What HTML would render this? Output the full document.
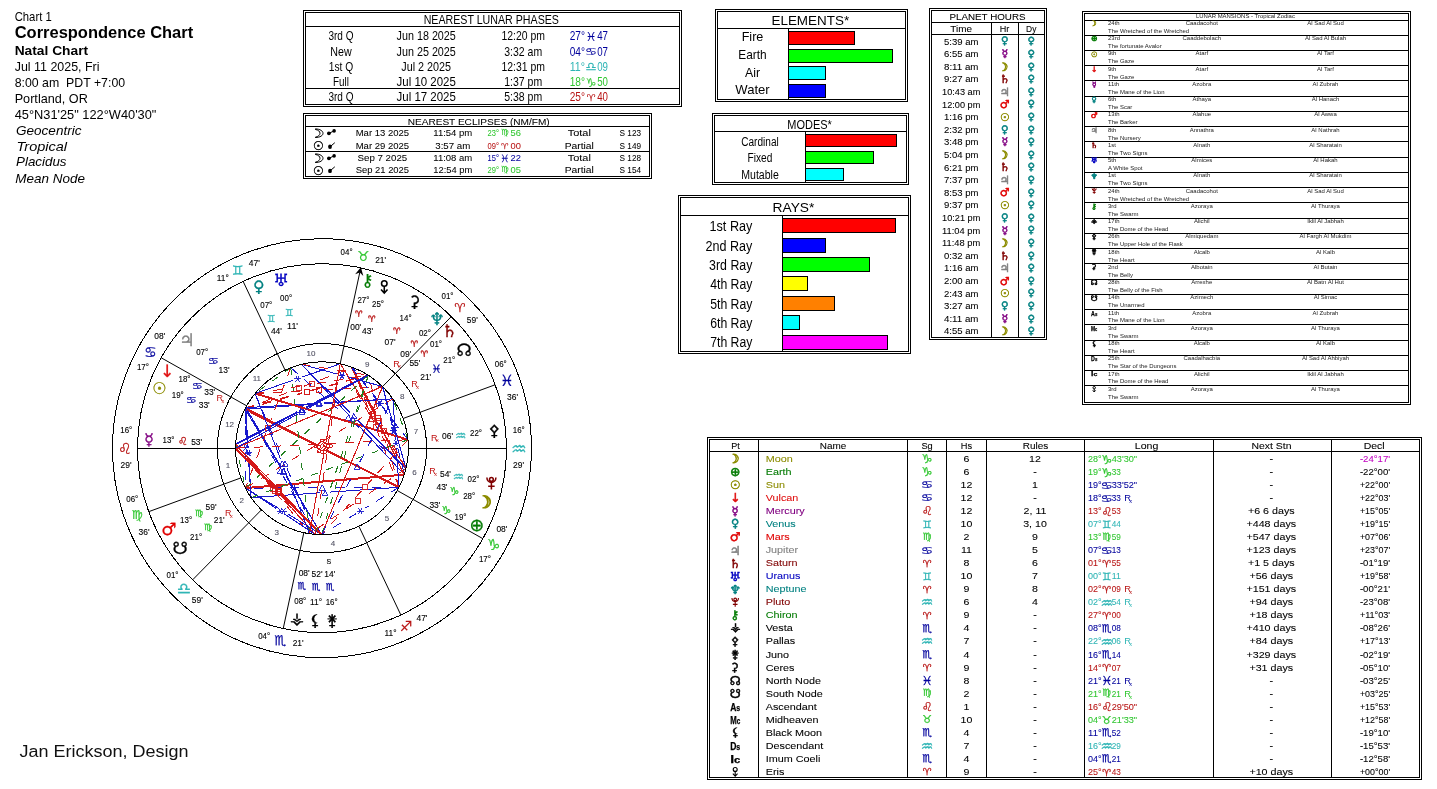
<!DOCTYPE html>
<html lang="en"><head><meta charset="utf-8"><title>Correspondence Chart</title>
<style>
html,body{margin:0;padding:0;background:#fff;}
body{width:1437px;height:789px;overflow:hidden;}
svg{display:block;font-family:"Liberation Sans","DejaVu Sans",sans-serif;}
.g{shape-rendering:crispEdges;stroke:#000;stroke-width:1;fill:none}
</style></head><body>
<svg width="1437" height="789" viewBox="0 0 1437 789">
<g id="hdr">
<text x="14.7" y="20.6" font-size="13" textLength="37" lengthAdjust="spacingAndGlyphs">Chart 1</text>
<text x="14.7" y="38.1" font-size="16" font-weight="bold" textLength="178.5" lengthAdjust="spacingAndGlyphs">Correspondence Chart</text>
<text x="14.7" y="54.9" font-size="13" font-weight="bold" textLength="73.4" lengthAdjust="spacingAndGlyphs">Natal Chart</text>
<text x="14.7" y="70.6" font-size="13" textLength="84.8" lengthAdjust="spacingAndGlyphs">Jul 11 2025, Fri</text>
<text x="14.7" y="86.6" font-size="13" textLength="110.4" lengthAdjust="spacingAndGlyphs" xml:space="preserve">8:00 am  PDT +7:00</text>
<text x="14.7" y="102.5" font-size="13" textLength="73.1" lengthAdjust="spacingAndGlyphs">Portland, OR</text>
<text x="14.7" y="118.7" font-size="13" textLength="141.7" lengthAdjust="spacingAndGlyphs">45°N31'25" 122°W40'30"</text>
<text x="16" y="134.5" font-size="13" font-style="italic" textLength="65.5" lengthAdjust="spacingAndGlyphs">Geocentric</text>
<text x="16.6" y="150.5" font-size="13" font-style="italic" textLength="50.5" lengthAdjust="spacingAndGlyphs">Tropical</text>
<text x="16" y="166.4" font-size="13" font-style="italic" textLength="50.5" lengthAdjust="spacingAndGlyphs">Placidus</text>
<text x="15.2" y="182.6" font-size="13" font-style="italic" textLength="69.7" lengthAdjust="spacingAndGlyphs">Mean Node</text>
<text x="19.5" y="757" font-size="17.3" fill="#111" textLength="169" lengthAdjust="spacingAndGlyphs">Jan Erickson, Design</text>
</g>
<g id="phases"><g class="g">
<rect x="303.5" y="10.5" width="378" height="96" fill="none" stroke="#000"/>
<rect x="305.5" y="12.5" width="374" height="92" fill="none" stroke="#000"/>
<line x1="306" y1="26.5" x2="679" y2="26.5"/>
<line x1="306" y1="88.5" x2="679" y2="88.5"/>
</g>
<text x="491.3" y="24.2" font-size="13" text-anchor="middle" textLength="135.3" lengthAdjust="spacingAndGlyphs">NEAREST LUNAR PHASES</text>
<text x="341" y="40.4" font-size="13" text-anchor="middle" textLength="25.1" lengthAdjust="spacingAndGlyphs">3rd Q</text>
<text x="426.2" y="40.4" font-size="13" text-anchor="middle" textLength="59.3" lengthAdjust="spacingAndGlyphs">Jun 18 2025</text>
<text x="523.2" y="40.4" font-size="13" text-anchor="middle" textLength="43.5" lengthAdjust="spacingAndGlyphs">12:20 pm</text>
<text x="569.7" y="40.4" font-size="13" fill="#00009c" textLength="15.3" lengthAdjust="spacingAndGlyphs">27°</text>
<text x="585.58" y="40.70" font-size="12.32" font-family="DejaVu Sans" fill="#00009c" stroke="#00009c" stroke-width="0.1">♓&#xFE0E;</text>
<text x="597.2" y="40.4" font-size="13" fill="#00009c" textLength="10.8" lengthAdjust="spacingAndGlyphs">47</text>
<text x="341" y="55.7" font-size="13" text-anchor="middle" textLength="21.4" lengthAdjust="spacingAndGlyphs">New</text>
<text x="426.2" y="55.7" font-size="13" text-anchor="middle" textLength="59.3" lengthAdjust="spacingAndGlyphs">Jun 25 2025</text>
<text x="523.2" y="55.7" font-size="13" text-anchor="middle" textLength="37.9" lengthAdjust="spacingAndGlyphs">3:32 am</text>
<text x="569.7" y="55.7" font-size="13" fill="#00009c" textLength="15.3" lengthAdjust="spacingAndGlyphs">04°</text>
<text x="584.87" y="56.43" font-size="13.89" font-family="DejaVu Sans" fill="#00009c" stroke="#00009c" stroke-width="0.1" transform="translate(0 14.42) scale(1 0.72)">♋&#xFE0E;</text>
<text x="597.2" y="55.7" font-size="13" fill="#00009c" textLength="10.8" lengthAdjust="spacingAndGlyphs">07</text>
<text x="341" y="70.9" font-size="13" text-anchor="middle" textLength="24.5" lengthAdjust="spacingAndGlyphs">1st Q</text>
<text x="426.2" y="70.9" font-size="13" text-anchor="middle" textLength="49.8" lengthAdjust="spacingAndGlyphs">Jul 2 2025</text>
<text x="523.2" y="70.9" font-size="13" text-anchor="middle" textLength="43.5" lengthAdjust="spacingAndGlyphs">12:31 pm</text>
<text x="569.7" y="70.9" font-size="13" fill="#2fb5b5" textLength="15.3" lengthAdjust="spacingAndGlyphs">11°</text>
<text x="585.32" y="71.24" font-size="12.89" font-family="DejaVu Sans" fill="#2fb5b5" stroke="#2fb5b5" stroke-width="0.1">♎&#xFE0E;</text>
<text x="597.2" y="70.9" font-size="13" fill="#2fb5b5" textLength="10.8" lengthAdjust="spacingAndGlyphs">09</text>
<text x="341" y="86.3" font-size="13" text-anchor="middle" textLength="15.9" lengthAdjust="spacingAndGlyphs">Full</text>
<text x="426.2" y="86.3" font-size="13" text-anchor="middle" textLength="59.3" lengthAdjust="spacingAndGlyphs">Jul 10 2025</text>
<text x="523.2" y="86.3" font-size="13" text-anchor="middle" textLength="37.9" lengthAdjust="spacingAndGlyphs">1:37 pm</text>
<text x="569.7" y="86.3" font-size="13" fill="#2fc62f" textLength="15.3" lengthAdjust="spacingAndGlyphs">18°</text>
<text x="585.58" y="86.60" font-size="12.32" font-family="DejaVu Sans" fill="#2fc62f" stroke="#2fc62f" stroke-width="0.1">♑&#xFE0E;</text>
<text x="597.2" y="86.3" font-size="13" fill="#2fc62f" textLength="10.8" lengthAdjust="spacingAndGlyphs">50</text>
<text x="341" y="101.2" font-size="13" text-anchor="middle" textLength="25.1" lengthAdjust="spacingAndGlyphs">3rd Q</text>
<text x="426.2" y="101.2" font-size="13" text-anchor="middle" textLength="59.3" lengthAdjust="spacingAndGlyphs">Jul 17 2025</text>
<text x="523.2" y="101.2" font-size="13" text-anchor="middle" textLength="37.9" lengthAdjust="spacingAndGlyphs">5:38 pm</text>
<text x="569.7" y="101.2" font-size="13" fill="#b81414" textLength="15.3" lengthAdjust="spacingAndGlyphs">25°</text>
<text x="586.65" y="100.63" font-size="9.94" font-family="DejaVu Sans" fill="#b81414" stroke="#b81414" stroke-width="0.1">♈&#xFE0E;</text>
<text x="597.2" y="101.2" font-size="13" fill="#b81414" textLength="10.8" lengthAdjust="spacingAndGlyphs">40</text>
</g>
<g id="ecl"><g class="g">
<rect x="303.5" y="113.5" width="348" height="65" fill="none" stroke="#000"/>
<rect x="305.5" y="115.5" width="344" height="61" fill="none" stroke="#000"/>
<line x1="306" y1="126.5" x2="649" y2="126.5"/>
<line x1="306" y1="151.5" x2="649" y2="151.5"/>
</g>
<text x="478.7" y="124.6" font-size="9.5" text-anchor="middle" textLength="142" lengthAdjust="spacingAndGlyphs" stroke="#000" stroke-width="0.06">NEAREST ECLIPSES (NM/FM)</text>
<path d="M315.2 129.4C321.6 130.5 321.6 135.9 315.2 137.3M315.2 128.9C325.6 129.1 325.6 137.5 315.2 137.5" fill="none" stroke="#000" stroke-width="1"/>
<path d="M328.9 133.3L334.1 130.9" stroke="#000" stroke-width="1"/><circle cx="328.9" cy="133.3" r="1.9"/><circle cx="334.1" cy="130.9" r="1.8"/>
<text x="382.4" y="136" font-size="9.5" text-anchor="middle" textLength="53.4" lengthAdjust="spacingAndGlyphs" stroke="#000" stroke-width="0.06">Mar 13 2025</text>
<text x="452.8" y="136" font-size="9.5" text-anchor="middle" textLength="39" lengthAdjust="spacingAndGlyphs" stroke="#000" stroke-width="0.06">11:54 pm</text>
<text x="487.6" y="136" font-size="9.5" fill="#2fc62f" textLength="11.4" lengthAdjust="spacingAndGlyphs" stroke="#2fc62f" stroke-width="0.06">23°</text>
<text x="500.99" y="135.44" font-size="8.50" font-family="DejaVu Sans" fill="#2fc62f" stroke="#2fc62f" stroke-width="0.1">♍&#xFE0E;</text>
<text x="510.6" y="136" font-size="9.5" fill="#2fc62f" textLength="10.4" lengthAdjust="spacingAndGlyphs" stroke="#2fc62f" stroke-width="0.06">56</text>
<text x="579.3" y="136" font-size="9.5" text-anchor="middle" textLength="23.1" lengthAdjust="spacingAndGlyphs" stroke="#000" stroke-width="0.06">Total</text>
<text x="630.3" y="136" font-size="9.5" text-anchor="middle" textLength="21.4" lengthAdjust="spacingAndGlyphs" stroke="#000" stroke-width="0.06">S 123</text>
<text x="313.10" y="150.40" font-size="12.05" font-family="DejaVu Sans" fill="#000" stroke="#000" stroke-width="0.35">☉&#xFE0E;</text>
<path d="M330 146.8L334.8 142.7" stroke="#000" stroke-width="1"/><ellipse cx="330" cy="146.8" rx="1.9" ry="2.2"/>
<text x="382.4" y="148.9" font-size="9.5" text-anchor="middle" textLength="53.4" lengthAdjust="spacingAndGlyphs" stroke="#000" stroke-width="0.06">Mar 29 2025</text>
<text x="452.8" y="148.9" font-size="9.5" text-anchor="middle" textLength="35" lengthAdjust="spacingAndGlyphs" stroke="#000" stroke-width="0.06">3:57 am</text>
<text x="487.6" y="148.9" font-size="9.5" fill="#b81414" textLength="11.4" lengthAdjust="spacingAndGlyphs" stroke="#b81414" stroke-width="0.06">09°</text>
<text x="500.97" y="149.12" font-size="8.54" font-family="DejaVu Sans" fill="#b81414" stroke="#b81414" stroke-width="0.1">♈&#xFE0E;</text>
<text x="510.6" y="148.9" font-size="9.5" fill="#b81414" textLength="10.4" lengthAdjust="spacingAndGlyphs" stroke="#b81414" stroke-width="0.06">00</text>
<text x="579.3" y="148.9" font-size="9.5" text-anchor="middle" textLength="29.2" lengthAdjust="spacingAndGlyphs" stroke="#000" stroke-width="0.06">Partial</text>
<text x="630.3" y="148.9" font-size="9.5" text-anchor="middle" textLength="21.4" lengthAdjust="spacingAndGlyphs" stroke="#000" stroke-width="0.06">S 149</text>
<path d="M315.2 154.4C321.6 155.5 321.6 160.9 315.2 162.3M315.2 153.9C325.6 154.1 325.6 162.5 315.2 162.5" fill="none" stroke="#000" stroke-width="1"/>
<path d="M328.9 158.3L334.1 155.9" stroke="#000" stroke-width="1"/><circle cx="328.9" cy="158.3" r="1.9"/><circle cx="334.1" cy="155.9" r="1.8"/>
<text x="382.4" y="161" font-size="9.5" text-anchor="middle" textLength="49.6" lengthAdjust="spacingAndGlyphs" stroke="#000" stroke-width="0.06">Sep 7 2025</text>
<text x="452.8" y="161" font-size="9.5" text-anchor="middle" textLength="39" lengthAdjust="spacingAndGlyphs" stroke="#000" stroke-width="0.06">11:08 am</text>
<text x="487.6" y="161" font-size="9.5" fill="#00009c" textLength="11.4" lengthAdjust="spacingAndGlyphs" stroke="#00009c" stroke-width="0.06">15°</text>
<text x="500.05" y="161.97" font-size="10.60" font-family="DejaVu Sans" fill="#00009c" stroke="#00009c" stroke-width="0.1">♓&#xFE0E;</text>
<text x="510.6" y="161" font-size="9.5" fill="#00009c" textLength="10.4" lengthAdjust="spacingAndGlyphs" stroke="#00009c" stroke-width="0.06">22</text>
<text x="579.3" y="161" font-size="9.5" text-anchor="middle" textLength="23.1" lengthAdjust="spacingAndGlyphs" stroke="#000" stroke-width="0.06">Total</text>
<text x="630.3" y="161" font-size="9.5" text-anchor="middle" textLength="21.4" lengthAdjust="spacingAndGlyphs" stroke="#000" stroke-width="0.06">S 128</text>
<text x="313.10" y="174.50" font-size="12.05" font-family="DejaVu Sans" fill="#000" stroke="#000" stroke-width="0.35">☉&#xFE0E;</text>
<path d="M330 170.9L334.8 166.8" stroke="#000" stroke-width="1"/><ellipse cx="330" cy="170.9" rx="1.9" ry="2.2"/>
<text x="382.4" y="173" font-size="9.5" text-anchor="middle" textLength="53.4" lengthAdjust="spacingAndGlyphs" stroke="#000" stroke-width="0.06">Sep 21 2025</text>
<text x="452.8" y="173" font-size="9.5" text-anchor="middle" textLength="39" lengthAdjust="spacingAndGlyphs" stroke="#000" stroke-width="0.06">12:54 pm</text>
<text x="487.6" y="173" font-size="9.5" fill="#2fc62f" textLength="11.4" lengthAdjust="spacingAndGlyphs" stroke="#2fc62f" stroke-width="0.06">29°</text>
<text x="500.99" y="172.44" font-size="8.50" font-family="DejaVu Sans" fill="#2fc62f" stroke="#2fc62f" stroke-width="0.1">♍&#xFE0E;</text>
<text x="510.6" y="173" font-size="9.5" fill="#2fc62f" textLength="10.4" lengthAdjust="spacingAndGlyphs" stroke="#2fc62f" stroke-width="0.06">05</text>
<text x="579.3" y="173" font-size="9.5" text-anchor="middle" textLength="29.2" lengthAdjust="spacingAndGlyphs" stroke="#000" stroke-width="0.06">Partial</text>
<text x="630.3" y="173" font-size="9.5" text-anchor="middle" textLength="21.4" lengthAdjust="spacingAndGlyphs" stroke="#000" stroke-width="0.06">S 154</text>
</g>
<g id="elements"><g class="g">
<rect x="715.5" y="9.5" width="192" height="92" fill="none" stroke="#000"/>
<rect x="717.5" y="11.5" width="188" height="88" fill="none" stroke="#000"/>
<line x1="718" y1="28.5" x2="905" y2="28.5"/>
<line x1="788.5" y1="28" x2="788.5" y2="100"/>
</g>
<text x="810.3" y="24.8" font-size="13" text-anchor="middle" textLength="77.7" lengthAdjust="spacingAndGlyphs">ELEMENTS*</text>
<g class="g">
<rect x="788.5" y="31.5" width="66" height="13" fill="#ff0000" stroke="#000"/>
<rect x="788.5" y="49.5" width="104" height="13" fill="#00ff00" stroke="#000"/>
<rect x="788.5" y="66.5" width="37" height="13" fill="#00ffff" stroke="#000"/>
<rect x="788.5" y="84.5" width="37" height="13" fill="#0000ff" stroke="#000"/>
</g>
<text x="752.5" y="41.4" font-size="13" text-anchor="middle" textLength="21.7" lengthAdjust="spacingAndGlyphs">Fire</text>
<text x="752.5" y="59.2" font-size="13" text-anchor="middle" textLength="28.4" lengthAdjust="spacingAndGlyphs">Earth</text>
<text x="752.5" y="76.8" font-size="13" text-anchor="middle" textLength="15" lengthAdjust="spacingAndGlyphs">Air</text>
<text x="752.5" y="94.4" font-size="13" text-anchor="middle" textLength="34.4" lengthAdjust="spacingAndGlyphs">Water</text>
</g>
<g id="modes"><g class="g">
<rect x="712.5" y="113.5" width="196" height="71" fill="none" stroke="#000"/>
<rect x="714.5" y="115.5" width="192" height="67" fill="none" stroke="#000"/>
<line x1="715" y1="131.5" x2="906" y2="131.5"/>
<line x1="805.5" y1="131" x2="805.5" y2="183"/>
</g>
<text x="809.6" y="128.8" font-size="12" text-anchor="middle" textLength="44.5" lengthAdjust="spacingAndGlyphs">MODES*</text>
<g class="g">
<rect x="805.5" y="134.5" width="91" height="12" fill="#ff0000" stroke="#000"/>
<rect x="805.5" y="151.5" width="68" height="12" fill="#00ff00" stroke="#000"/>
<rect x="805.5" y="168.5" width="38" height="12" fill="#00ffff" stroke="#000"/>
</g>
<text x="760" y="145.9" font-size="12" text-anchor="middle" textLength="37.5" lengthAdjust="spacingAndGlyphs">Cardinal</text>
<text x="760" y="161.8" font-size="12" text-anchor="middle" textLength="24.8" lengthAdjust="spacingAndGlyphs">Fixed</text>
<text x="760" y="178.6" font-size="12" text-anchor="middle" textLength="37.5" lengthAdjust="spacingAndGlyphs">Mutable</text>
</g>
<g id="rays"><g class="g">
<rect x="678.5" y="195.5" width="232" height="158" fill="none" stroke="#000"/>
<rect x="680.5" y="197.5" width="228" height="154" fill="none" stroke="#000"/>
<line x1="681" y1="215.5" x2="908" y2="215.5"/>
<line x1="782.5" y1="215" x2="782.5" y2="352"/>
</g>
<text x="793.5" y="211.9" font-size="13" text-anchor="middle" textLength="41.8" lengthAdjust="spacingAndGlyphs">RAYS*</text>
<g class="g">
<rect x="782.5" y="218.5" width="113" height="14" fill="#ff0000" stroke="#000"/>
<rect x="782.5" y="238.5" width="43" height="14" fill="#0000ff" stroke="#000"/>
<rect x="782.5" y="257.5" width="87" height="14" fill="#00ff00" stroke="#000"/>
<rect x="782.5" y="276.5" width="25" height="14" fill="#ffff00" stroke="#000"/>
<rect x="782.5" y="296.5" width="52" height="14" fill="#ff8000" stroke="#000"/>
<rect x="782.5" y="315.5" width="17" height="14" fill="#00ffff" stroke="#000"/>
<rect x="782.5" y="335.5" width="105" height="14" fill="#ff00ff" stroke="#000"/>
</g>
<text x="752.4" y="231.3" font-size="14" text-anchor="end" textLength="42.9" lengthAdjust="spacingAndGlyphs">1st Ray</text>
<text x="752.4" y="250.7" font-size="14" text-anchor="end" textLength="46.8" lengthAdjust="spacingAndGlyphs">2nd Ray</text>
<text x="752.4" y="269.9" font-size="14" text-anchor="end" textLength="43.3" lengthAdjust="spacingAndGlyphs">3rd Ray</text>
<text x="752.4" y="289.2" font-size="14" text-anchor="end" textLength="42.2" lengthAdjust="spacingAndGlyphs">4th Ray</text>
<text x="752.4" y="308.9" font-size="14" text-anchor="end" textLength="42.2" lengthAdjust="spacingAndGlyphs">5th Ray</text>
<text x="752.4" y="327.8" font-size="14" text-anchor="end" textLength="42.2" lengthAdjust="spacingAndGlyphs">6th Ray</text>
<text x="752.4" y="347" font-size="14" text-anchor="end" textLength="42.2" lengthAdjust="spacingAndGlyphs">7th Ray</text>
</g>
<g id="hours"><g class="g">
<rect x="929.5" y="8.5" width="117" height="331" fill="none" stroke="#000"/>
<rect x="931.5" y="10.5" width="113" height="327" fill="none" stroke="#000"/>
<line x1="932" y1="22.5" x2="1044" y2="22.5"/>
<line x1="932" y1="34.5" x2="1044" y2="34.5"/>
<line x1="991.5" y1="22" x2="991.5" y2="337"/>
<line x1="1018.5" y1="22" x2="1018.5" y2="337"/>
</g>
<text x="987.5" y="19.5" font-size="9" text-anchor="middle" textLength="76" lengthAdjust="spacingAndGlyphs" stroke="#000" stroke-width="0.08">PLANET HOURS</text>
<text x="961.2" y="31.7" font-size="9.4" text-anchor="middle" textLength="21.7" lengthAdjust="spacingAndGlyphs" stroke="#000" stroke-width="0.08">Time</text>
<text x="1004.6" y="31.7" font-size="9.4" text-anchor="middle" textLength="9.6" lengthAdjust="spacingAndGlyphs" stroke="#000" stroke-width="0.08">Hr</text>
<text x="1031.2" y="31.7" font-size="9.4" text-anchor="middle" textLength="10.3" lengthAdjust="spacingAndGlyphs" stroke="#000" stroke-width="0.08">Dy</text>
<text x="961.2" y="44.5" font-size="9.4" text-anchor="middle" textLength="34.4" lengthAdjust="spacingAndGlyphs" stroke="#000" stroke-width="0.08">5:39 am</text>
<text x="1001.02" y="44.43" font-size="10.33" font-family="DejaVu Sans" fill="#008080" stroke="#008080" stroke-width="0.5">♀&#xFE0E;</text>
<text x="1027.51" y="44.35" font-size="10.08" font-family="DejaVu Sans" fill="#008080" stroke="#008080" stroke-width="0.5">♀&#xFE0E;</text>
<text x="961.2" y="57.1" font-size="9.4" text-anchor="middle" textLength="34.4" lengthAdjust="spacingAndGlyphs" stroke="#000" stroke-width="0.08">6:55 am</text>
<text x="1001.54" y="57.25" font-size="10.63" font-family="DejaVu Sans" fill="#800080" stroke="#800080" stroke-width="0.5">☿&#xFE0E;</text>
<text x="1027.51" y="56.95" font-size="10.08" font-family="DejaVu Sans" fill="#008080" stroke="#008080" stroke-width="0.5">♀&#xFE0E;</text>
<text x="961.2" y="69.7" font-size="9.4" text-anchor="middle" textLength="34.4" lengthAdjust="spacingAndGlyphs" stroke="#000" stroke-width="0.08">8:11 am</text>
<text x="998.22" y="70.60" font-size="11.23" font-family="DejaVu Sans" fill="#8c8c00" stroke="#8c8c00" stroke-width="0.697">☽&#xFE0E;</text>
<text x="1027.51" y="69.55" font-size="10.08" font-family="DejaVu Sans" fill="#008080" stroke="#008080" stroke-width="0.5">♀&#xFE0E;</text>
<text x="961.2" y="82.3" font-size="9.4" text-anchor="middle" textLength="34.4" lengthAdjust="spacingAndGlyphs" stroke="#000" stroke-width="0.08">9:27 am</text>
<text x="999.77" y="83.20" font-size="11.23" font-family="DejaVu Sans" fill="#800000" stroke="#800000" stroke-width="0.5">♄&#xFE0E;</text>
<text x="1027.51" y="82.15" font-size="10.08" font-family="DejaVu Sans" fill="#008080" stroke="#008080" stroke-width="0.5">♀&#xFE0E;</text>
<text x="961.2" y="94.9" font-size="9.4" text-anchor="middle" textLength="38.2" lengthAdjust="spacingAndGlyphs" stroke="#000" stroke-width="0.08">10:43 am</text>
<text x="999.77" y="95.80" font-size="11.23" font-family="DejaVu Sans" fill="#808080" stroke="#808080" stroke-width="0.5">♃&#xFE0E;</text>
<text x="1027.51" y="94.75" font-size="10.08" font-family="DejaVu Sans" fill="#008080" stroke="#008080" stroke-width="0.5">♀&#xFE0E;</text>
<text x="961.2" y="107.5" font-size="9.4" text-anchor="middle" textLength="38.2" lengthAdjust="spacingAndGlyphs" stroke="#000" stroke-width="0.08">12:00 pm</text>
<text x="999.72" y="108.24" font-size="11.17" font-family="DejaVu Sans" fill="#e00000" stroke="#e00000" stroke-width="0.5">♂&#xFE0E;</text>
<text x="1027.51" y="107.35" font-size="10.08" font-family="DejaVu Sans" fill="#008080" stroke="#008080" stroke-width="0.5">♀&#xFE0E;</text>
<text x="961.2" y="120.1" font-size="9.4" text-anchor="middle" textLength="34.4" lengthAdjust="spacingAndGlyphs" stroke="#000" stroke-width="0.08">1:16 pm</text>
<text x="1000.02" y="120.79" font-size="10.66" font-family="DejaVu Sans" fill="#8c8c00" stroke="#8c8c00" stroke-width="0.5">☉&#xFE0E;</text>
<text x="1027.51" y="119.95" font-size="10.08" font-family="DejaVu Sans" fill="#008080" stroke="#008080" stroke-width="0.5">♀&#xFE0E;</text>
<text x="961.2" y="132.7" font-size="9.4" text-anchor="middle" textLength="34.4" lengthAdjust="spacingAndGlyphs" stroke="#000" stroke-width="0.08">2:32 pm</text>
<text x="1001.02" y="132.63" font-size="10.33" font-family="DejaVu Sans" fill="#008080" stroke="#008080" stroke-width="0.5">♀&#xFE0E;</text>
<text x="1027.51" y="132.55" font-size="10.08" font-family="DejaVu Sans" fill="#008080" stroke="#008080" stroke-width="0.5">♀&#xFE0E;</text>
<text x="961.2" y="145.3" font-size="9.4" text-anchor="middle" textLength="34.4" lengthAdjust="spacingAndGlyphs" stroke="#000" stroke-width="0.08">3:48 pm</text>
<text x="1001.54" y="145.45" font-size="10.63" font-family="DejaVu Sans" fill="#800080" stroke="#800080" stroke-width="0.5">☿&#xFE0E;</text>
<text x="1027.51" y="145.15" font-size="10.08" font-family="DejaVu Sans" fill="#008080" stroke="#008080" stroke-width="0.5">♀&#xFE0E;</text>
<text x="961.2" y="157.9" font-size="9.4" text-anchor="middle" textLength="34.4" lengthAdjust="spacingAndGlyphs" stroke="#000" stroke-width="0.08">5:04 pm</text>
<text x="998.22" y="158.80" font-size="11.23" font-family="DejaVu Sans" fill="#8c8c00" stroke="#8c8c00" stroke-width="0.697">☽&#xFE0E;</text>
<text x="1027.51" y="157.75" font-size="10.08" font-family="DejaVu Sans" fill="#008080" stroke="#008080" stroke-width="0.5">♀&#xFE0E;</text>
<text x="961.2" y="170.5" font-size="9.4" text-anchor="middle" textLength="34.4" lengthAdjust="spacingAndGlyphs" stroke="#000" stroke-width="0.08">6:21 pm</text>
<text x="999.77" y="171.40" font-size="11.23" font-family="DejaVu Sans" fill="#800000" stroke="#800000" stroke-width="0.5">♄&#xFE0E;</text>
<text x="1027.51" y="170.35" font-size="10.08" font-family="DejaVu Sans" fill="#008080" stroke="#008080" stroke-width="0.5">♀&#xFE0E;</text>
<text x="961.2" y="183.1" font-size="9.4" text-anchor="middle" textLength="34.4" lengthAdjust="spacingAndGlyphs" stroke="#000" stroke-width="0.08">7:37 pm</text>
<text x="999.77" y="184.00" font-size="11.23" font-family="DejaVu Sans" fill="#808080" stroke="#808080" stroke-width="0.5">♃&#xFE0E;</text>
<text x="1027.51" y="182.95" font-size="10.08" font-family="DejaVu Sans" fill="#008080" stroke="#008080" stroke-width="0.5">♀&#xFE0E;</text>
<text x="961.2" y="195.7" font-size="9.4" text-anchor="middle" textLength="34.4" lengthAdjust="spacingAndGlyphs" stroke="#000" stroke-width="0.08">8:53 pm</text>
<text x="999.72" y="196.44" font-size="11.17" font-family="DejaVu Sans" fill="#e00000" stroke="#e00000" stroke-width="0.5">♂&#xFE0E;</text>
<text x="1027.51" y="195.55" font-size="10.08" font-family="DejaVu Sans" fill="#008080" stroke="#008080" stroke-width="0.5">♀&#xFE0E;</text>
<text x="961.2" y="208.3" font-size="9.4" text-anchor="middle" textLength="34.4" lengthAdjust="spacingAndGlyphs" stroke="#000" stroke-width="0.08">9:37 pm</text>
<text x="1000.02" y="209.00" font-size="10.66" font-family="DejaVu Sans" fill="#8c8c00" stroke="#8c8c00" stroke-width="0.5">☉&#xFE0E;</text>
<text x="1027.51" y="208.15" font-size="10.08" font-family="DejaVu Sans" fill="#008080" stroke="#008080" stroke-width="0.5">♀&#xFE0E;</text>
<text x="961.2" y="220.9" font-size="9.4" text-anchor="middle" textLength="38.2" lengthAdjust="spacingAndGlyphs" stroke="#000" stroke-width="0.08">10:21 pm</text>
<text x="1001.02" y="220.83" font-size="10.33" font-family="DejaVu Sans" fill="#008080" stroke="#008080" stroke-width="0.5">♀&#xFE0E;</text>
<text x="1027.51" y="220.75" font-size="10.08" font-family="DejaVu Sans" fill="#008080" stroke="#008080" stroke-width="0.5">♀&#xFE0E;</text>
<text x="961.2" y="233.5" font-size="9.4" text-anchor="middle" textLength="38.2" lengthAdjust="spacingAndGlyphs" stroke="#000" stroke-width="0.08">11:04 pm</text>
<text x="1001.54" y="233.65" font-size="10.63" font-family="DejaVu Sans" fill="#800080" stroke="#800080" stroke-width="0.5">☿&#xFE0E;</text>
<text x="1027.51" y="233.35" font-size="10.08" font-family="DejaVu Sans" fill="#008080" stroke="#008080" stroke-width="0.5">♀&#xFE0E;</text>
<text x="961.2" y="246.1" font-size="9.4" text-anchor="middle" textLength="38.2" lengthAdjust="spacingAndGlyphs" stroke="#000" stroke-width="0.08">11:48 pm</text>
<text x="998.22" y="247.00" font-size="11.23" font-family="DejaVu Sans" fill="#8c8c00" stroke="#8c8c00" stroke-width="0.697">☽&#xFE0E;</text>
<text x="1027.51" y="245.95" font-size="10.08" font-family="DejaVu Sans" fill="#008080" stroke="#008080" stroke-width="0.5">♀&#xFE0E;</text>
<text x="961.2" y="258.7" font-size="9.4" text-anchor="middle" textLength="34.4" lengthAdjust="spacingAndGlyphs" stroke="#000" stroke-width="0.08">0:32 am</text>
<text x="999.77" y="259.60" font-size="11.23" font-family="DejaVu Sans" fill="#800000" stroke="#800000" stroke-width="0.5">♄&#xFE0E;</text>
<text x="1027.51" y="258.55" font-size="10.08" font-family="DejaVu Sans" fill="#008080" stroke="#008080" stroke-width="0.5">♀&#xFE0E;</text>
<text x="961.2" y="271.3" font-size="9.4" text-anchor="middle" textLength="34.4" lengthAdjust="spacingAndGlyphs" stroke="#000" stroke-width="0.08">1:16 am</text>
<text x="999.77" y="272.20" font-size="11.23" font-family="DejaVu Sans" fill="#808080" stroke="#808080" stroke-width="0.5">♃&#xFE0E;</text>
<text x="1027.51" y="271.15" font-size="10.08" font-family="DejaVu Sans" fill="#008080" stroke="#008080" stroke-width="0.5">♀&#xFE0E;</text>
<text x="961.2" y="283.9" font-size="9.4" text-anchor="middle" textLength="34.4" lengthAdjust="spacingAndGlyphs" stroke="#000" stroke-width="0.08">2:00 am</text>
<text x="999.72" y="284.64" font-size="11.17" font-family="DejaVu Sans" fill="#e00000" stroke="#e00000" stroke-width="0.5">♂&#xFE0E;</text>
<text x="1027.51" y="283.75" font-size="10.08" font-family="DejaVu Sans" fill="#008080" stroke="#008080" stroke-width="0.5">♀&#xFE0E;</text>
<text x="961.2" y="296.5" font-size="9.4" text-anchor="middle" textLength="34.4" lengthAdjust="spacingAndGlyphs" stroke="#000" stroke-width="0.08">2:43 am</text>
<text x="1000.02" y="297.19" font-size="10.66" font-family="DejaVu Sans" fill="#8c8c00" stroke="#8c8c00" stroke-width="0.5">☉&#xFE0E;</text>
<text x="1027.51" y="296.35" font-size="10.08" font-family="DejaVu Sans" fill="#008080" stroke="#008080" stroke-width="0.5">♀&#xFE0E;</text>
<text x="961.2" y="309.1" font-size="9.4" text-anchor="middle" textLength="34.4" lengthAdjust="spacingAndGlyphs" stroke="#000" stroke-width="0.08">3:27 am</text>
<text x="1001.02" y="309.03" font-size="10.33" font-family="DejaVu Sans" fill="#008080" stroke="#008080" stroke-width="0.5">♀&#xFE0E;</text>
<text x="1027.51" y="308.95" font-size="10.08" font-family="DejaVu Sans" fill="#008080" stroke="#008080" stroke-width="0.5">♀&#xFE0E;</text>
<text x="961.2" y="321.7" font-size="9.4" text-anchor="middle" textLength="34.4" lengthAdjust="spacingAndGlyphs" stroke="#000" stroke-width="0.08">4:11 am</text>
<text x="1001.54" y="321.85" font-size="10.63" font-family="DejaVu Sans" fill="#800080" stroke="#800080" stroke-width="0.5">☿&#xFE0E;</text>
<text x="1027.51" y="321.55" font-size="10.08" font-family="DejaVu Sans" fill="#008080" stroke="#008080" stroke-width="0.5">♀&#xFE0E;</text>
<text x="961.2" y="334.3" font-size="9.4" text-anchor="middle" textLength="34.4" lengthAdjust="spacingAndGlyphs" stroke="#000" stroke-width="0.08">4:55 am</text>
<text x="998.22" y="335.20" font-size="11.23" font-family="DejaVu Sans" fill="#8c8c00" stroke="#8c8c00" stroke-width="0.697">☽&#xFE0E;</text>
<text x="1027.51" y="334.15" font-size="10.08" font-family="DejaVu Sans" fill="#008080" stroke="#008080" stroke-width="0.5">♀&#xFE0E;</text>
</g>
<g id="mansions"><g class="g">
<rect x="1082.5" y="11.5" width="328" height="393" fill="none" stroke="#000"/>
<rect x="1084.5" y="13.5" width="324" height="389" fill="none" stroke="#000"/>
<line x1="1085" y1="20.5" x2="1408" y2="20.5"/>
<line x1="1085" y1="35.5" x2="1408" y2="35.5"/>
<line x1="1085" y1="50.5" x2="1408" y2="50.5"/>
<line x1="1085" y1="65.5" x2="1408" y2="65.5"/>
<line x1="1085" y1="80.5" x2="1408" y2="80.5"/>
<line x1="1085" y1="96.5" x2="1408" y2="96.5"/>
<line x1="1085" y1="111.5" x2="1408" y2="111.5"/>
<line x1="1085" y1="126.5" x2="1408" y2="126.5"/>
<line x1="1085" y1="141.5" x2="1408" y2="141.5"/>
<line x1="1085" y1="157.5" x2="1408" y2="157.5"/>
<line x1="1085" y1="172.5" x2="1408" y2="172.5"/>
<line x1="1085" y1="187.5" x2="1408" y2="187.5"/>
<line x1="1085" y1="202.5" x2="1408" y2="202.5"/>
<line x1="1085" y1="218.5" x2="1408" y2="218.5"/>
<line x1="1085" y1="233.5" x2="1408" y2="233.5"/>
<line x1="1085" y1="248.5" x2="1408" y2="248.5"/>
<line x1="1085" y1="263.5" x2="1408" y2="263.5"/>
<line x1="1085" y1="279.5" x2="1408" y2="279.5"/>
<line x1="1085" y1="294.5" x2="1408" y2="294.5"/>
<line x1="1085" y1="309.5" x2="1408" y2="309.5"/>
<line x1="1085" y1="324.5" x2="1408" y2="324.5"/>
<line x1="1085" y1="340.5" x2="1408" y2="340.5"/>
<line x1="1085" y1="355.5" x2="1408" y2="355.5"/>
<line x1="1085" y1="370.5" x2="1408" y2="370.5"/>
<line x1="1085" y1="385.5" x2="1408" y2="385.5"/>
</g>
<text x="1245.4" y="18.2" font-size="5.8" text-anchor="middle" fill="#222" textLength="99" lengthAdjust="spacingAndGlyphs">LUNAR MANSIONS - Tropical Zodiac</text>
<text x="1108" y="25" font-size="5.8" fill="#222" textLength="11.6277" lengthAdjust="spacingAndGlyphs">24th</text>
<text x="1201.8" y="25" font-size="5.8" text-anchor="middle" fill="#222" textLength="32.2189" lengthAdjust="spacingAndGlyphs">Caadacohot</text>
<text x="1325.5" y="25" font-size="5.8" text-anchor="middle" fill="#222" textLength="36.5336" lengthAdjust="spacingAndGlyphs">Al Sad Al Sud</text>
<text x="1108" y="32.9" font-size="5.8" fill="#222" textLength="81.1366" lengthAdjust="spacingAndGlyphs">The Wretched of the Wretched</text>
<text x="1089.71" y="26.20" font-size="7.67" font-family="DejaVu Sans" fill="#8c8c00" stroke="#8c8c00" stroke-width="0.476">☽&#xFE0E;</text>
<text x="1108" y="40.24" font-size="5.8" fill="#222" textLength="11.9569" lengthAdjust="spacingAndGlyphs">23rd</text>
<text x="1201.8" y="40.24" font-size="5.8" text-anchor="middle" fill="#222" textLength="38.5309" lengthAdjust="spacingAndGlyphs">Caaddebolach</text>
<text x="1325.5" y="40.24" font-size="5.8" text-anchor="middle" fill="#222" textLength="41.1831" lengthAdjust="spacingAndGlyphs">Al Sad Al Bulah</text>
<text x="1108" y="48.14" font-size="5.8" fill="#222" textLength="53.692" lengthAdjust="spacingAndGlyphs">The fortunate Avalor</text>
<text x="1090.91" y="41.10" font-size="7.84" font-family="DejaVu Sans" fill="#007a00" stroke="#007a00" stroke-width="0.5">⊕&#xFE0E;</text>
<text x="1108" y="55.48" font-size="5.8" fill="#222" textLength="8.30518" lengthAdjust="spacingAndGlyphs">9th</text>
<text x="1201.8" y="55.48" font-size="5.8" text-anchor="middle" fill="#222" textLength="12.6167" lengthAdjust="spacingAndGlyphs">Atarf</text>
<text x="1325.5" y="55.48" font-size="5.8" text-anchor="middle" fill="#222" textLength="16.8228" lengthAdjust="spacingAndGlyphs">Al Tarf</text>
<text x="1108" y="63.38" font-size="5.8" fill="#222" textLength="26.2336" lengthAdjust="spacingAndGlyphs">The Gaze</text>
<text x="1090.94" y="56.54" font-size="7.28" font-family="DejaVu Sans" fill="#8c8c00" stroke="#8c8c00" stroke-width="0.5">☉&#xFE0E;</text>
<text x="1108" y="70.72" font-size="5.8" fill="#222" textLength="8.30518" lengthAdjust="spacingAndGlyphs">9th</text>
<text x="1201.8" y="70.72" font-size="5.8" text-anchor="middle" fill="#222" textLength="12.6167" lengthAdjust="spacingAndGlyphs">Atarf</text>
<text x="1325.5" y="70.72" font-size="5.8" text-anchor="middle" fill="#222" textLength="16.8228" lengthAdjust="spacingAndGlyphs">Al Tarf</text>
<text x="1108" y="78.62" font-size="5.8" fill="#222" textLength="26.2336" lengthAdjust="spacingAndGlyphs">The Gaze</text>
<text x="1091.00" y="71.89" font-size="7.65" font-family="DejaVu Sans" fill="#e01010" stroke="#e01010" stroke-width="0.5">↓&#xFE0E;</text>
<text x="1108" y="85.96" font-size="5.8" fill="#222" textLength="11.1844" lengthAdjust="spacingAndGlyphs">11th</text>
<text x="1201.8" y="85.96" font-size="5.8" text-anchor="middle" fill="#222" textLength="18.9287" lengthAdjust="spacingAndGlyphs">Azobra</text>
<text x="1325.5" y="85.96" font-size="5.8" text-anchor="middle" fill="#222" textLength="25.9005" lengthAdjust="spacingAndGlyphs">Al Zubrah</text>
<text x="1108" y="93.86" font-size="5.8" fill="#222" textLength="56.4609" lengthAdjust="spacingAndGlyphs">The Mane of the Lion</text>
<text x="1091.97" y="86.65" font-size="7.26" font-family="DejaVu Sans" fill="#800080" stroke="#800080" stroke-width="0.5">☿&#xFE0E;</text>
<text x="1108" y="101.2" font-size="5.8" fill="#222" textLength="8.30518" lengthAdjust="spacingAndGlyphs">6th</text>
<text x="1201.8" y="101.2" font-size="5.8" text-anchor="middle" fill="#222" textLength="18.5995" lengthAdjust="spacingAndGlyphs">Athaya</text>
<text x="1325.5" y="101.2" font-size="5.8" text-anchor="middle" fill="#222" textLength="27.563" lengthAdjust="spacingAndGlyphs">Al Hanach</text>
<text x="1108" y="109.1" font-size="5.8" fill="#222" textLength="24.238" lengthAdjust="spacingAndGlyphs">The Scar</text>
<text x="1091.62" y="101.74" font-size="7.06" font-family="DejaVu Sans" fill="#008080" stroke="#008080" stroke-width="0.5">♀&#xFE0E;</text>
<text x="1108" y="116.44" font-size="5.8" fill="#222" textLength="11.6277" lengthAdjust="spacingAndGlyphs">13th</text>
<text x="1201.8" y="116.44" font-size="5.8" text-anchor="middle" fill="#222" textLength="18.602" lengthAdjust="spacingAndGlyphs">Alahue</text>
<text x="1325.5" y="116.44" font-size="5.8" text-anchor="middle" fill="#222" textLength="22.4693" lengthAdjust="spacingAndGlyphs">Al Awwa</text>
<text x="1108" y="124.34" font-size="5.8" fill="#222" textLength="29.5497" lengthAdjust="spacingAndGlyphs">The Barker</text>
<text x="1090.73" y="117.53" font-size="7.63" font-family="DejaVu Sans" fill="#e00000" stroke="#e00000" stroke-width="0.5">♂&#xFE0E;</text>
<text x="1108" y="131.68" font-size="5.8" fill="#222" textLength="8.30518" lengthAdjust="spacingAndGlyphs">8th</text>
<text x="1201.8" y="131.68" font-size="5.8" text-anchor="middle" fill="#222" textLength="24.2468" lengthAdjust="spacingAndGlyphs">Annathra</text>
<text x="1325.5" y="131.68" font-size="5.8" text-anchor="middle" fill="#222" textLength="28.2252" lengthAdjust="spacingAndGlyphs">Al Nathrah</text>
<text x="1108" y="139.58" font-size="5.8" fill="#222" textLength="32.8659" lengthAdjust="spacingAndGlyphs">The Nursery</text>
<text x="1090.77" y="132.88" font-size="7.67" font-family="DejaVu Sans" fill="#808080" stroke="#808080" stroke-width="0.5">♃&#xFE0E;</text>
<text x="1108" y="146.92" font-size="5.8" fill="#222" textLength="7.96962" lengthAdjust="spacingAndGlyphs">1st</text>
<text x="1201.8" y="146.92" font-size="5.8" text-anchor="middle" fill="#222" textLength="16.9395" lengthAdjust="spacingAndGlyphs">Alnath</text>
<text x="1325.5" y="146.92" font-size="5.8" text-anchor="middle" fill="#222" textLength="32.5456" lengthAdjust="spacingAndGlyphs">Al Sharatain</text>
<text x="1108" y="154.82" font-size="5.8" fill="#222" textLength="39.4064" lengthAdjust="spacingAndGlyphs">The Two Signs</text>
<text x="1090.77" y="148.12" font-size="7.67" font-family="DejaVu Sans" fill="#800000" stroke="#800000" stroke-width="0.5">♄&#xFE0E;</text>
<text x="1108" y="162.16" font-size="5.8" fill="#222" textLength="8.30518" lengthAdjust="spacingAndGlyphs">5th</text>
<text x="1201.8" y="162.16" font-size="5.8" text-anchor="middle" fill="#222" textLength="20.9114" lengthAdjust="spacingAndGlyphs">Almices</text>
<text x="1325.5" y="162.16" font-size="5.8" text-anchor="middle" fill="#222" textLength="24.2404" lengthAdjust="spacingAndGlyphs">Al Hakah</text>
<text x="1108" y="170.06" font-size="5.8" fill="#222" textLength="34.5356" lengthAdjust="spacingAndGlyphs">A White Spot</text>
<text x="1090.77" y="163.36" font-size="7.67" font-family="DejaVu Sans" fill="#0000c0" stroke="#0000c0" stroke-width="0.5">♅&#xFE0E;</text>
<text x="1108" y="177.4" font-size="5.8" fill="#222" textLength="7.96962" lengthAdjust="spacingAndGlyphs">1st</text>
<text x="1201.8" y="177.4" font-size="5.8" text-anchor="middle" fill="#222" textLength="16.9395" lengthAdjust="spacingAndGlyphs">Alnath</text>
<text x="1325.5" y="177.4" font-size="5.8" text-anchor="middle" fill="#222" textLength="32.5456" lengthAdjust="spacingAndGlyphs">Al Sharatain</text>
<text x="1108" y="185.3" font-size="5.8" fill="#222" textLength="39.4064" lengthAdjust="spacingAndGlyphs">The Two Signs</text>
<text x="1090.77" y="178.60" font-size="7.67" font-family="DejaVu Sans" fill="#008080" stroke="#008080" stroke-width="0.5">♆&#xFE0E;</text>
<text x="1108" y="192.64" font-size="5.8" fill="#222" textLength="11.6277" lengthAdjust="spacingAndGlyphs">24th</text>
<text x="1201.8" y="192.64" font-size="5.8" text-anchor="middle" fill="#222" textLength="32.2189" lengthAdjust="spacingAndGlyphs">Caadacohot</text>
<text x="1325.5" y="192.64" font-size="5.8" text-anchor="middle" fill="#222" textLength="36.5336" lengthAdjust="spacingAndGlyphs">Al Sad Al Sud</text>
<text x="1108" y="200.54" font-size="5.8" fill="#222" textLength="81.1366" lengthAdjust="spacingAndGlyphs">The Wretched of the Wretched</text>
<g fill="none" stroke="#800000" stroke-width="1" stroke-linecap="butt"><circle cx="1094.2" cy="189.304" r="0.84"/><path d="M1092.18 188.464 A2.016 2.184 0 0 0 1096.22 188.464"/><path d="M1094.2 190.648V193.84M1092.74 192.384H1095.66"/></g>
<text x="1108" y="207.88" font-size="5.8" fill="#222" textLength="8.6343" lengthAdjust="spacingAndGlyphs">3rd</text>
<text x="1201.8" y="207.88" font-size="5.8" text-anchor="middle" fill="#222" textLength="21.9157" lengthAdjust="spacingAndGlyphs">Azoraya</text>
<text x="1325.5" y="207.88" font-size="5.8" text-anchor="middle" fill="#222" textLength="28.7796" lengthAdjust="spacingAndGlyphs">Al Thuraya</text>
<text x="1108" y="215.78" font-size="5.8" fill="#222" textLength="30.5411" lengthAdjust="spacingAndGlyphs">The Swarm</text>
<text x="1091.27" y="208.53" font-size="7.43" font-family="DejaVu Sans" fill="#007a00" stroke="#007a00" stroke-width="0.5">⚷&#xFE0E;</text>
<text x="1108" y="223.12" font-size="5.8" fill="#222" textLength="11.6277" lengthAdjust="spacingAndGlyphs">17th</text>
<text x="1201.8" y="223.12" font-size="5.8" text-anchor="middle" fill="#222" textLength="15.6021" lengthAdjust="spacingAndGlyphs">Alichil</text>
<text x="1325.5" y="223.12" font-size="5.8" text-anchor="middle" fill="#222" textLength="36.5296" lengthAdjust="spacingAndGlyphs">Iklil Al Jabhah</text>
<text x="1108" y="231.02" font-size="5.8" fill="#222" textLength="60.4393" lengthAdjust="spacingAndGlyphs">The Dome of the Head</text>
<text x="1091.07" y="223.45" font-size="7.36" font-family="DejaVu Sans" fill="#000" stroke="#000" stroke-width="0.5">⚶&#xFE0E;</text>
<text x="1108" y="238.36" font-size="5.8" fill="#222" textLength="11.6277" lengthAdjust="spacingAndGlyphs">26th</text>
<text x="1201.8" y="238.36" font-size="5.8" text-anchor="middle" fill="#222" textLength="33.2038" lengthAdjust="spacingAndGlyphs">Almiquedam</text>
<text x="1325.5" y="238.36" font-size="5.8" text-anchor="middle" fill="#222" textLength="51.7913" lengthAdjust="spacingAndGlyphs">Al Fargh Al Mukdim</text>
<text x="1108" y="246.26" font-size="5.8" fill="#222" textLength="74.712" lengthAdjust="spacingAndGlyphs">The Upper Hole of the Flask</text>
<text x="1091.62" y="238.90" font-size="7.06" font-family="DejaVu Sans" fill="#000" stroke="#000" stroke-width="0.5">⚴&#xFE0E;</text>
<text x="1108" y="253.6" font-size="5.8" fill="#222" textLength="11.6277" lengthAdjust="spacingAndGlyphs">18th</text>
<text x="1201.8" y="253.6" font-size="5.8" text-anchor="middle" fill="#222" textLength="16.2708" lengthAdjust="spacingAndGlyphs">Alcalb</text>
<text x="1325.5" y="253.6" font-size="5.8" text-anchor="middle" fill="#222" textLength="18.9287" lengthAdjust="spacingAndGlyphs">Al Kalb</text>
<text x="1108" y="261.5" font-size="5.8" fill="#222" textLength="26.5627" lengthAdjust="spacingAndGlyphs">The Heart</text>
<text x="1091.62" y="254.14" font-size="7.06" font-family="DejaVu Sans" fill="#000" stroke="#000" stroke-width="0.5">⚵&#xFE0E;</text>
<text x="1108" y="268.84" font-size="5.8" fill="#222" textLength="9.96766" lengthAdjust="spacingAndGlyphs">2nd</text>
<text x="1201.8" y="268.84" font-size="5.8" text-anchor="middle" fill="#222" textLength="21.589" lengthAdjust="spacingAndGlyphs">Albotain</text>
<text x="1325.5" y="268.84" font-size="5.8" text-anchor="middle" fill="#222" textLength="23.9113" lengthAdjust="spacingAndGlyphs">Al Butain</text>
<text x="1108" y="276.74" font-size="5.8" fill="#222" textLength="24.9027" lengthAdjust="spacingAndGlyphs">The Belly</text>
<text x="1091.32" y="269.38" font-size="7.06" font-family="DejaVu Sans" fill="#000" stroke="#000" stroke-width="0.5">⚳&#xFE0E;</text>
<text x="1108" y="284.08" font-size="5.8" fill="#222" textLength="11.6277" lengthAdjust="spacingAndGlyphs">28th</text>
<text x="1201.8" y="284.08" font-size="5.8" text-anchor="middle" fill="#222" textLength="20.9179" lengthAdjust="spacingAndGlyphs">Arrexhe</text>
<text x="1325.5" y="284.08" font-size="5.8" text-anchor="middle" fill="#222" textLength="36.8603" lengthAdjust="spacingAndGlyphs">Al Batn Al Hut</text>
<text x="1108" y="291.98" font-size="5.8" fill="#222" textLength="54.4564" lengthAdjust="spacingAndGlyphs">The Belly of the Fish</text>
<text x="1090.78" y="285.28" font-size="7.70" font-family="DejaVu Sans" fill="#000" stroke="#000" stroke-width="0.5">☊&#xFE0E;</text>
<text x="1108" y="299.32" font-size="5.8" fill="#222" textLength="11.6277" lengthAdjust="spacingAndGlyphs">14th</text>
<text x="1201.8" y="299.32" font-size="5.8" text-anchor="middle" fill="#222" textLength="22.907" lengthAdjust="spacingAndGlyphs">Azimech</text>
<text x="1325.5" y="299.32" font-size="5.8" text-anchor="middle" fill="#222" textLength="23.5693" lengthAdjust="spacingAndGlyphs">Al Simac</text>
<text x="1108" y="307.22" font-size="5.8" fill="#222" textLength="36.524" lengthAdjust="spacingAndGlyphs">The Unarmed</text>
<text x="1090.76" y="300.52" font-size="7.74" font-family="DejaVu Sans" fill="#000" stroke="#000" stroke-width="0.5">☋&#xFE0E;</text>
<text x="1108" y="314.56" font-size="5.8" fill="#222" textLength="11.1844" lengthAdjust="spacingAndGlyphs">11th</text>
<text x="1201.8" y="314.56" font-size="5.8" text-anchor="middle" fill="#222" textLength="18.9287" lengthAdjust="spacingAndGlyphs">Azobra</text>
<text x="1325.5" y="314.56" font-size="5.8" text-anchor="middle" fill="#222" textLength="25.9005" lengthAdjust="spacingAndGlyphs">Al Zubrah</text>
<text x="1108" y="322.46" font-size="5.8" fill="#222" textLength="56.4609" lengthAdjust="spacingAndGlyphs">The Mane of the Lion</text>
<text x="1094.2" y="315.536" font-size="6.72" text-anchor="middle" font-weight="bold" fill="#000" stroke="#000" stroke-width="0.25" textLength="6.272" lengthAdjust="spacingAndGlyphs">A<tspan font-size="5.5104">s</tspan></text>
<text x="1108" y="329.8" font-size="5.8" fill="#222" textLength="8.6343" lengthAdjust="spacingAndGlyphs">3rd</text>
<text x="1201.8" y="329.8" font-size="5.8" text-anchor="middle" fill="#222" textLength="21.9157" lengthAdjust="spacingAndGlyphs">Azoraya</text>
<text x="1325.5" y="329.8" font-size="5.8" text-anchor="middle" fill="#222" textLength="28.7796" lengthAdjust="spacingAndGlyphs">Al Thuraya</text>
<text x="1108" y="337.7" font-size="5.8" fill="#222" textLength="30.5411" lengthAdjust="spacingAndGlyphs">The Swarm</text>
<text x="1094.2" y="330.776" font-size="6.72" text-anchor="middle" font-weight="bold" fill="#000" stroke="#000" stroke-width="0.25" textLength="6.272" lengthAdjust="spacingAndGlyphs">M<tspan font-size="5.5104">c</tspan></text>
<text x="1108" y="345.04" font-size="5.8" fill="#222" textLength="11.6277" lengthAdjust="spacingAndGlyphs">18th</text>
<text x="1201.8" y="345.04" font-size="5.8" text-anchor="middle" fill="#222" textLength="16.2708" lengthAdjust="spacingAndGlyphs">Alcalb</text>
<text x="1325.5" y="345.04" font-size="5.8" text-anchor="middle" fill="#222" textLength="18.9287" lengthAdjust="spacingAndGlyphs">Al Kalb</text>
<text x="1108" y="352.94" font-size="5.8" fill="#222" textLength="26.5627" lengthAdjust="spacingAndGlyphs">The Heart</text>
<text x="1091.74" y="345.58" font-size="7.03" font-family="DejaVu Sans" fill="#000" stroke="#000" stroke-width="0.5">⚸&#xFE0E;</text>
<text x="1108" y="360.28" font-size="5.8" fill="#222" textLength="11.6277" lengthAdjust="spacingAndGlyphs">25th</text>
<text x="1201.8" y="360.28" font-size="5.8" text-anchor="middle" fill="#222" textLength="36.5352" lengthAdjust="spacingAndGlyphs">Caadalhacbia</text>
<text x="1325.5" y="360.28" font-size="5.8" text-anchor="middle" fill="#222" textLength="47.1627" lengthAdjust="spacingAndGlyphs">Al Sad Al Ahbiyah</text>
<text x="1108" y="368.18" font-size="5.8" fill="#222" textLength="68.4153" lengthAdjust="spacingAndGlyphs">The Star of the Dungeons</text>
<text x="1094.2" y="361.256" font-size="6.72" text-anchor="middle" font-weight="bold" fill="#000" stroke="#000" stroke-width="0.25" textLength="6.272" lengthAdjust="spacingAndGlyphs">D<tspan font-size="5.5104">s</tspan></text>
<text x="1108" y="375.52" font-size="5.8" fill="#222" textLength="11.6277" lengthAdjust="spacingAndGlyphs">17th</text>
<text x="1201.8" y="375.52" font-size="5.8" text-anchor="middle" fill="#222" textLength="15.6021" lengthAdjust="spacingAndGlyphs">Alichil</text>
<text x="1325.5" y="375.52" font-size="5.8" text-anchor="middle" fill="#222" textLength="36.5296" lengthAdjust="spacingAndGlyphs">Iklil Al Jabhah</text>
<text x="1108" y="383.42" font-size="5.8" fill="#222" textLength="60.4393" lengthAdjust="spacingAndGlyphs">The Dome of the Head</text>
<text x="1094.2" y="376.496" font-size="6.72" text-anchor="middle" font-weight="bold" fill="#000" stroke="#000" stroke-width="0.25" textLength="6.272" lengthAdjust="spacingAndGlyphs">I<tspan font-size="5.5104">c</tspan></text>
<text x="1108" y="390.76" font-size="5.8" fill="#222" textLength="8.6343" lengthAdjust="spacingAndGlyphs">3rd</text>
<text x="1201.8" y="390.76" font-size="5.8" text-anchor="middle" fill="#222" textLength="21.9157" lengthAdjust="spacingAndGlyphs">Azoraya</text>
<text x="1325.5" y="390.76" font-size="5.8" text-anchor="middle" fill="#222" textLength="28.7796" lengthAdjust="spacingAndGlyphs">Al Thuraya</text>
<text x="1108" y="398.66" font-size="5.8" fill="#222" textLength="30.5411" lengthAdjust="spacingAndGlyphs">The Swarm</text>
<g fill="none" stroke="#000" stroke-width="1"><circle cx="1094.2" cy="387.704" r="1.232"/><path d="M1094.2 388.936V391.848M1092.74 390.392L1094.2 391.96L1095.66 390.392"/></g>
</g>
<g id="ptable"><g class="g">
<rect x="707.5" y="437.5" width="714" height="342" fill="none" stroke="#000"/>
<rect x="709.5" y="439.5" width="710" height="338" fill="none" stroke="#000"/>
<line x1="710" y1="451.5" x2="1419" y2="451.5"/>
<line x1="758.5" y1="440" x2="758.5" y2="777"/>
<line x1="907.5" y1="440" x2="907.5" y2="777"/>
<line x1="946.5" y1="440" x2="946.5" y2="777"/>
<line x1="986.5" y1="440" x2="986.5" y2="777"/>
<line x1="1084.5" y1="440" x2="1084.5" y2="777"/>
<line x1="1213.5" y1="440" x2="1213.5" y2="777"/>
<line x1="1331.5" y1="440" x2="1331.5" y2="777"/>
</g>
<text x="735.5" y="448.8" font-size="9.4" text-anchor="middle" textLength="8.5" lengthAdjust="spacingAndGlyphs" stroke="#000" stroke-width="0.08">Pt</text>
<text x="833" y="448.8" font-size="9.4" text-anchor="middle" textLength="26.5" lengthAdjust="spacingAndGlyphs" stroke="#000" stroke-width="0.08">Name</text>
<text x="927.1" y="448.8" font-size="9.4" text-anchor="middle" textLength="11.3" lengthAdjust="spacingAndGlyphs" stroke="#000" stroke-width="0.08">Sg</text>
<text x="966.5" y="448.8" font-size="9.4" text-anchor="middle" textLength="11.3" lengthAdjust="spacingAndGlyphs" stroke="#000" stroke-width="0.08">Hs</text>
<text x="1035.5" y="448.8" font-size="9.4" text-anchor="middle" textLength="25.5" lengthAdjust="spacingAndGlyphs" stroke="#000" stroke-width="0.08">Rules</text>
<text x="1146.6" y="448.8" font-size="9.4" text-anchor="middle" textLength="23.5" lengthAdjust="spacingAndGlyphs" stroke="#000" stroke-width="0.08">Long</text>
<text x="1271.5" y="448.8" font-size="9.4" text-anchor="middle" textLength="40" lengthAdjust="spacingAndGlyphs" stroke="#000" stroke-width="0.08">Next Stn</text>
<text x="1374.2" y="448.8" font-size="9.4" text-anchor="middle" textLength="21" lengthAdjust="spacingAndGlyphs" stroke="#000" stroke-width="0.08">Decl</text>
<text x="727.98" y="463.30" font-size="12.33" font-family="DejaVu Sans" fill="#8c8c00" stroke="#8c8c00" stroke-width="0.765">☽&#xFE0E;</text>
<text x="765.7" y="461.9" font-size="9.4" fill="#8c8c00" textLength="27.0169" lengthAdjust="spacingAndGlyphs" stroke="#8c8c00" stroke-width="0.08">Moon</text>
<text x="921.58" y="463.20" font-size="12.32" font-family="DejaVu Sans" fill="#2fc62f" stroke="#2fc62f" stroke-width="0.25">♑&#xFE0E;</text>
<text x="966.5" y="461.9" font-size="9.4" text-anchor="middle" textLength="5.89542" lengthAdjust="spacingAndGlyphs" stroke="#000" stroke-width="0.08">6</text>
<text x="1035" y="461.9" font-size="9.4" text-anchor="middle" textLength="11.7908" lengthAdjust="spacingAndGlyphs" stroke="#000" stroke-width="0.08">12</text>
<text x="1088.1" y="461.9" font-size="9.4" fill="#2fc62f" textLength="13.6" lengthAdjust="spacingAndGlyphs" stroke="#2fc62f" stroke-width="0.08">28°</text>
<text x="1101.18" y="463.50" font-size="12.32" font-family="DejaVu Sans" fill="#2fc62f" stroke="#2fc62f" stroke-width="0.25">♑&#xFE0E;</text>
<text x="1111.7" y="461.9" font-size="9.4" fill="#2fc62f" textLength="25.4" lengthAdjust="spacingAndGlyphs" stroke="#2fc62f" stroke-width="0.08">43'30"</text>
<text x="1271.3" y="461.9" font-size="9.4" text-anchor="middle" textLength="3.5636" lengthAdjust="spacingAndGlyphs" stroke="#000" stroke-width="0.08">-</text>
<text x="1375" y="461.9" font-size="9.4" text-anchor="middle" fill="#c000c0" textLength="30.2" lengthAdjust="spacingAndGlyphs" stroke="#c000c0" stroke-width="0.08">-24°17'</text>
<text x="729.92" y="475.80" font-size="12.61" font-family="DejaVu Sans" fill="#007a00" stroke="#007a00" stroke-width="0.5">⊕&#xFE0E;</text>
<text x="765.7" y="474.94" font-size="9.4" fill="#007a00" textLength="25.8145" lengthAdjust="spacingAndGlyphs" stroke="#007a00" stroke-width="0.08">Earth</text>
<text x="921.58" y="476.24" font-size="12.32" font-family="DejaVu Sans" fill="#2fc62f" stroke="#2fc62f" stroke-width="0.25">♑&#xFE0E;</text>
<text x="966.5" y="474.94" font-size="9.4" text-anchor="middle" textLength="5.89542" lengthAdjust="spacingAndGlyphs" stroke="#000" stroke-width="0.08">6</text>
<text x="1035" y="474.94" font-size="9.4" text-anchor="middle" textLength="3.5303" lengthAdjust="spacingAndGlyphs" stroke="#000" stroke-width="0.08">-</text>
<text x="1088.1" y="474.94" font-size="9.4" fill="#2fc62f" textLength="13.6" lengthAdjust="spacingAndGlyphs" stroke="#2fc62f" stroke-width="0.08">19°</text>
<text x="1101.18" y="476.54" font-size="12.32" font-family="DejaVu Sans" fill="#2fc62f" stroke="#2fc62f" stroke-width="0.25">♑&#xFE0E;</text>
<text x="1111.7" y="474.94" font-size="9.4" fill="#2fc62f" textLength="9.1" lengthAdjust="spacingAndGlyphs" stroke="#2fc62f" stroke-width="0.08">33</text>
<text x="1271.3" y="474.94" font-size="9.4" text-anchor="middle" textLength="3.5636" lengthAdjust="spacingAndGlyphs" stroke="#000" stroke-width="0.08">-</text>
<text x="1375" y="474.94" font-size="9.4" text-anchor="middle" textLength="30.2" lengthAdjust="spacingAndGlyphs" stroke="#000" stroke-width="0.08">-22°00'</text>
<text x="729.95" y="489.15" font-size="11.70" font-family="DejaVu Sans" fill="#8c8c00" stroke="#8c8c00" stroke-width="0.5">☉&#xFE0E;</text>
<text x="765.7" y="487.98" font-size="9.4" fill="#8c8c00" textLength="19.2172" lengthAdjust="spacingAndGlyphs" stroke="#8c8c00" stroke-width="0.08">Sun</text>
<text x="920.87" y="489.71" font-size="13.89" font-family="DejaVu Sans" fill="#00009c" stroke="#00009c" stroke-width="0.25" transform="translate(0 135.74) scale(1 0.72)">♋&#xFE0E;</text>
<text x="966.5" y="487.98" font-size="9.4" text-anchor="middle" textLength="11.7908" lengthAdjust="spacingAndGlyphs" stroke="#000" stroke-width="0.08">12</text>
<text x="1035" y="487.98" font-size="9.4" text-anchor="middle" textLength="5.89542" lengthAdjust="spacingAndGlyphs" stroke="#000" stroke-width="0.08">1</text>
<text x="1088.1" y="487.98" font-size="9.4" fill="#00009c" textLength="13.6" lengthAdjust="spacingAndGlyphs" stroke="#00009c" stroke-width="0.08">19°</text>
<text x="1100.47" y="490.01" font-size="13.89" font-family="DejaVu Sans" fill="#00009c" stroke="#00009c" stroke-width="0.25" transform="translate(0 135.82) scale(1 0.72)">♋&#xFE0E;</text>
<text x="1111.7" y="487.98" font-size="9.4" fill="#00009c" textLength="25.4" lengthAdjust="spacingAndGlyphs" stroke="#00009c" stroke-width="0.08">33'52"</text>
<text x="1271.3" y="487.98" font-size="9.4" text-anchor="middle" textLength="3.5636" lengthAdjust="spacingAndGlyphs" stroke="#000" stroke-width="0.08">-</text>
<text x="1375" y="487.98" font-size="9.4" text-anchor="middle" textLength="30.2" lengthAdjust="spacingAndGlyphs" stroke="#000" stroke-width="0.08">+22°00'</text>
<text x="730.06" y="502.38" font-size="12.29" font-family="DejaVu Sans" fill="#e01010" stroke="#e01010" stroke-width="0.5">↓&#xFE0E;</text>
<text x="765.7" y="501.02" font-size="9.4" fill="#e01010" textLength="32.6228" lengthAdjust="spacingAndGlyphs" stroke="#e01010" stroke-width="0.08">Vulcan</text>
<text x="920.87" y="502.75" font-size="13.89" font-family="DejaVu Sans" fill="#00009c" stroke="#00009c" stroke-width="0.25" transform="translate(0 139.39) scale(1 0.72)">♋&#xFE0E;</text>
<text x="966.5" y="501.02" font-size="9.4" text-anchor="middle" textLength="11.7908" lengthAdjust="spacingAndGlyphs" stroke="#000" stroke-width="0.08">12</text>
<text x="1035" y="501.02" font-size="9.4" text-anchor="middle" textLength="3.5303" lengthAdjust="spacingAndGlyphs" stroke="#000" stroke-width="0.08">-</text>
<text x="1088.1" y="501.02" font-size="9.4" fill="#00009c" textLength="13.6" lengthAdjust="spacingAndGlyphs" stroke="#00009c" stroke-width="0.08">18°</text>
<text x="1100.47" y="503.05" font-size="13.89" font-family="DejaVu Sans" fill="#00009c" stroke="#00009c" stroke-width="0.25" transform="translate(0 139.47) scale(1 0.72)">♋&#xFE0E;</text>
<text x="1111.7" y="501.02" font-size="9.4" fill="#00009c" textLength="9.1" lengthAdjust="spacingAndGlyphs" stroke="#00009c" stroke-width="0.08">33</text>
<text x="1124.2" y="501.02" font-size="9.4" fill="#00009c">R<tspan font-size="5.64" dy="2" dx="-1.8">x</tspan></text>
<text x="1271.3" y="501.02" font-size="9.4" text-anchor="middle" textLength="3.5636" lengthAdjust="spacingAndGlyphs" stroke="#000" stroke-width="0.08">-</text>
<text x="1375" y="501.02" font-size="9.4" text-anchor="middle" textLength="30.2" lengthAdjust="spacingAndGlyphs" stroke="#000" stroke-width="0.08">+22°03'</text>
<text x="731.62" y="514.64" font-size="11.66" font-family="DejaVu Sans" fill="#800080" stroke="#800080" stroke-width="0.5">☿&#xFE0E;</text>
<text x="765.7" y="514.06" font-size="9.4" fill="#800080" textLength="39.004" lengthAdjust="spacingAndGlyphs" stroke="#800080" stroke-width="0.08">Mercury</text>
<text x="921.58" y="515.36" font-size="12.32" font-family="DejaVu Sans" fill="#b81414" stroke="#b81414" stroke-width="0.25">♌&#xFE0E;</text>
<text x="966.5" y="514.06" font-size="9.4" text-anchor="middle" textLength="11.7908" lengthAdjust="spacingAndGlyphs" stroke="#000" stroke-width="0.08">12</text>
<text x="1035" y="514.06" font-size="9.4" text-anchor="middle" textLength="22.7892" lengthAdjust="spacingAndGlyphs" stroke="#000" stroke-width="0.08">2, 11</text>
<text x="1088.1" y="514.06" font-size="9.4" fill="#b81414" textLength="13.6" lengthAdjust="spacingAndGlyphs" stroke="#b81414" stroke-width="0.08">13°</text>
<text x="1101.18" y="515.66" font-size="12.32" font-family="DejaVu Sans" fill="#b81414" stroke="#b81414" stroke-width="0.25">♌&#xFE0E;</text>
<text x="1111.7" y="514.06" font-size="9.4" fill="#b81414" textLength="9.1" lengthAdjust="spacingAndGlyphs" stroke="#b81414" stroke-width="0.08">53</text>
<text x="1271.3" y="514.06" font-size="9.4" text-anchor="middle" textLength="46.698" lengthAdjust="spacingAndGlyphs" stroke="#000" stroke-width="0.08">+6 6 days</text>
<text x="1375" y="514.06" font-size="9.4" text-anchor="middle" textLength="30.2" lengthAdjust="spacingAndGlyphs" stroke="#000" stroke-width="0.08">+15°05'</text>
<text x="731.05" y="527.44" font-size="11.34" font-family="DejaVu Sans" fill="#008080" stroke="#008080" stroke-width="0.5">♀&#xFE0E;</text>
<text x="765.7" y="527.1" font-size="9.4" fill="#008080" textLength="30.0282" lengthAdjust="spacingAndGlyphs" stroke="#008080" stroke-width="0.08">Venus</text>
<text x="922.42" y="527.72" font-size="10.45" font-family="DejaVu Sans" fill="#2fb5b5" stroke="#2fb5b5" stroke-width="0.25">♊&#xFE0E;</text>
<text x="966.5" y="527.1" font-size="9.4" text-anchor="middle" textLength="11.7908" lengthAdjust="spacingAndGlyphs" stroke="#000" stroke-width="0.08">10</text>
<text x="1035" y="527.1" font-size="9.4" text-anchor="middle" textLength="23.5759" lengthAdjust="spacingAndGlyphs" stroke="#000" stroke-width="0.08">3, 10</text>
<text x="1088.1" y="527.1" font-size="9.4" fill="#2fb5b5" textLength="13.6" lengthAdjust="spacingAndGlyphs" stroke="#2fb5b5" stroke-width="0.08">07°</text>
<text x="1102.02" y="528.02" font-size="10.45" font-family="DejaVu Sans" fill="#2fb5b5" stroke="#2fb5b5" stroke-width="0.25">♊&#xFE0E;</text>
<text x="1111.7" y="527.1" font-size="9.4" fill="#2fb5b5" textLength="9.1" lengthAdjust="spacingAndGlyphs" stroke="#2fb5b5" stroke-width="0.08">44</text>
<text x="1271.3" y="527.1" font-size="9.4" text-anchor="middle" textLength="49.6764" lengthAdjust="spacingAndGlyphs" stroke="#000" stroke-width="0.08">+448 days</text>
<text x="1375" y="527.1" font-size="9.4" text-anchor="middle" textLength="30.2" lengthAdjust="spacingAndGlyphs" stroke="#000" stroke-width="0.08">+19°15'</text>
<text x="729.63" y="541.37" font-size="12.26" font-family="DejaVu Sans" fill="#e00000" stroke="#e00000" stroke-width="0.5">♂&#xFE0E;</text>
<text x="765.7" y="540.14" font-size="9.4" fill="#e00000" textLength="24.0005" lengthAdjust="spacingAndGlyphs" stroke="#e00000" stroke-width="0.08">Mars</text>
<text x="922.67" y="539.66" font-size="9.88" font-family="DejaVu Sans" fill="#2fc62f" stroke="#2fc62f" stroke-width="0.25">♍&#xFE0E;</text>
<text x="966.5" y="540.14" font-size="9.4" text-anchor="middle" textLength="5.89542" lengthAdjust="spacingAndGlyphs" stroke="#000" stroke-width="0.08">2</text>
<text x="1035" y="540.14" font-size="9.4" text-anchor="middle" textLength="5.89542" lengthAdjust="spacingAndGlyphs" stroke="#000" stroke-width="0.08">9</text>
<text x="1088.1" y="540.14" font-size="9.4" fill="#2fc62f" textLength="13.6" lengthAdjust="spacingAndGlyphs" stroke="#2fc62f" stroke-width="0.08">13°</text>
<text x="1102.27" y="539.96" font-size="9.88" font-family="DejaVu Sans" fill="#2fc62f" stroke="#2fc62f" stroke-width="0.25">♍&#xFE0E;</text>
<text x="1111.7" y="540.14" font-size="9.4" fill="#2fc62f" textLength="9.1" lengthAdjust="spacingAndGlyphs" stroke="#2fc62f" stroke-width="0.08">59</text>
<text x="1271.3" y="540.14" font-size="9.4" text-anchor="middle" textLength="49.6764" lengthAdjust="spacingAndGlyphs" stroke="#000" stroke-width="0.08">+547 days</text>
<text x="1375" y="540.14" font-size="9.4" text-anchor="middle" textLength="30.2" lengthAdjust="spacingAndGlyphs" stroke="#000" stroke-width="0.08">+07°06'</text>
<text x="729.68" y="554.58" font-size="12.32" font-family="DejaVu Sans" fill="#808080" stroke="#808080" stroke-width="0.5">♃&#xFE0E;</text>
<text x="765.7" y="553.18" font-size="9.4" fill="#808080" textLength="32.4169" lengthAdjust="spacingAndGlyphs" stroke="#808080" stroke-width="0.08">Jupiter</text>
<text x="920.87" y="554.91" font-size="13.89" font-family="DejaVu Sans" fill="#00009c" stroke="#00009c" stroke-width="0.25" transform="translate(0 153.99) scale(1 0.72)">♋&#xFE0E;</text>
<text x="966.5" y="553.18" font-size="9.4" text-anchor="middle" textLength="11.0041" lengthAdjust="spacingAndGlyphs" stroke="#000" stroke-width="0.08">11</text>
<text x="1035" y="553.18" font-size="9.4" text-anchor="middle" textLength="5.89542" lengthAdjust="spacingAndGlyphs" stroke="#000" stroke-width="0.08">5</text>
<text x="1088.1" y="553.18" font-size="9.4" fill="#00009c" textLength="13.6" lengthAdjust="spacingAndGlyphs" stroke="#00009c" stroke-width="0.08">07°</text>
<text x="1100.47" y="555.21" font-size="13.89" font-family="DejaVu Sans" fill="#00009c" stroke="#00009c" stroke-width="0.25" transform="translate(0 154.08) scale(1 0.72)">♋&#xFE0E;</text>
<text x="1111.7" y="553.18" font-size="9.4" fill="#00009c" textLength="9.1" lengthAdjust="spacingAndGlyphs" stroke="#00009c" stroke-width="0.08">13</text>
<text x="1271.3" y="553.18" font-size="9.4" text-anchor="middle" textLength="49.6764" lengthAdjust="spacingAndGlyphs" stroke="#000" stroke-width="0.08">+123 days</text>
<text x="1375" y="553.18" font-size="9.4" text-anchor="middle" textLength="30.2" lengthAdjust="spacingAndGlyphs" stroke="#000" stroke-width="0.08">+23°07'</text>
<text x="729.68" y="567.62" font-size="12.32" font-family="DejaVu Sans" fill="#800000" stroke="#800000" stroke-width="0.5">♄&#xFE0E;</text>
<text x="765.7" y="566.22" font-size="9.4" fill="#800000" textLength="31.8212" lengthAdjust="spacingAndGlyphs" stroke="#800000" stroke-width="0.08">Saturn</text>
<text x="922.65" y="566.65" font-size="9.94" font-family="DejaVu Sans" fill="#b81414" stroke="#b81414" stroke-width="0.25">♈&#xFE0E;</text>
<text x="966.5" y="566.22" font-size="9.4" text-anchor="middle" textLength="5.89542" lengthAdjust="spacingAndGlyphs" stroke="#000" stroke-width="0.08">8</text>
<text x="1035" y="566.22" font-size="9.4" text-anchor="middle" textLength="5.89542" lengthAdjust="spacingAndGlyphs" stroke="#000" stroke-width="0.08">6</text>
<text x="1088.1" y="566.22" font-size="9.4" fill="#b81414" textLength="13.6" lengthAdjust="spacingAndGlyphs" stroke="#b81414" stroke-width="0.08">01°</text>
<text x="1102.25" y="566.95" font-size="9.94" font-family="DejaVu Sans" fill="#b81414" stroke="#b81414" stroke-width="0.25">♈&#xFE0E;</text>
<text x="1111.7" y="566.22" font-size="9.4" fill="#b81414" textLength="9.1" lengthAdjust="spacingAndGlyphs" stroke="#b81414" stroke-width="0.08">55</text>
<text x="1271.3" y="566.22" font-size="9.4" text-anchor="middle" textLength="46.698" lengthAdjust="spacingAndGlyphs" stroke="#000" stroke-width="0.08">+1 5 days</text>
<text x="1375" y="566.22" font-size="9.4" text-anchor="middle" textLength="30.2" lengthAdjust="spacingAndGlyphs" stroke="#000" stroke-width="0.08">-01°19'</text>
<text x="729.68" y="580.66" font-size="12.32" font-family="DejaVu Sans" fill="#0000c0" stroke="#0000c0" stroke-width="0.5">♅&#xFE0E;</text>
<text x="765.7" y="579.26" font-size="9.4" fill="#0000c0" textLength="34.8165" lengthAdjust="spacingAndGlyphs" stroke="#0000c0" stroke-width="0.08">Uranus</text>
<text x="922.42" y="579.88" font-size="10.45" font-family="DejaVu Sans" fill="#2fb5b5" stroke="#2fb5b5" stroke-width="0.25">♊&#xFE0E;</text>
<text x="966.5" y="579.26" font-size="9.4" text-anchor="middle" textLength="11.7908" lengthAdjust="spacingAndGlyphs" stroke="#000" stroke-width="0.08">10</text>
<text x="1035" y="579.26" font-size="9.4" text-anchor="middle" textLength="5.89542" lengthAdjust="spacingAndGlyphs" stroke="#000" stroke-width="0.08">7</text>
<text x="1088.1" y="579.26" font-size="9.4" fill="#2fb5b5" textLength="13.6" lengthAdjust="spacingAndGlyphs" stroke="#2fb5b5" stroke-width="0.08">00°</text>
<text x="1102.02" y="580.18" font-size="10.45" font-family="DejaVu Sans" fill="#2fb5b5" stroke="#2fb5b5" stroke-width="0.25">♊&#xFE0E;</text>
<text x="1111.7" y="579.26" font-size="9.4" fill="#2fb5b5" textLength="9.1" lengthAdjust="spacingAndGlyphs" stroke="#2fb5b5" stroke-width="0.08">11</text>
<text x="1271.3" y="579.26" font-size="9.4" text-anchor="middle" textLength="43.7254" lengthAdjust="spacingAndGlyphs" stroke="#000" stroke-width="0.08">+56 days</text>
<text x="1375" y="579.26" font-size="9.4" text-anchor="middle" textLength="30.2" lengthAdjust="spacingAndGlyphs" stroke="#000" stroke-width="0.08">+19°58'</text>
<text x="729.68" y="593.70" font-size="12.32" font-family="DejaVu Sans" fill="#008080" stroke="#008080" stroke-width="0.5">♆&#xFE0E;</text>
<text x="765.7" y="592.3" font-size="9.4" fill="#008080" textLength="40.8333" lengthAdjust="spacingAndGlyphs" stroke="#008080" stroke-width="0.08">Neptune</text>
<text x="922.65" y="592.73" font-size="9.94" font-family="DejaVu Sans" fill="#b81414" stroke="#b81414" stroke-width="0.25">♈&#xFE0E;</text>
<text x="966.5" y="592.3" font-size="9.4" text-anchor="middle" textLength="5.89542" lengthAdjust="spacingAndGlyphs" stroke="#000" stroke-width="0.08">9</text>
<text x="1035" y="592.3" font-size="9.4" text-anchor="middle" textLength="5.89542" lengthAdjust="spacingAndGlyphs" stroke="#000" stroke-width="0.08">8</text>
<text x="1088.1" y="592.3" font-size="9.4" fill="#b81414" textLength="13.6" lengthAdjust="spacingAndGlyphs" stroke="#b81414" stroke-width="0.08">02°</text>
<text x="1102.25" y="593.03" font-size="9.94" font-family="DejaVu Sans" fill="#b81414" stroke="#b81414" stroke-width="0.25">♈&#xFE0E;</text>
<text x="1111.7" y="592.3" font-size="9.4" fill="#b81414" textLength="9.1" lengthAdjust="spacingAndGlyphs" stroke="#b81414" stroke-width="0.08">09</text>
<text x="1124.2" y="592.3" font-size="9.4" fill="#b81414">R<tspan font-size="5.64" dy="2" dx="-1.8">x</tspan></text>
<text x="1271.3" y="592.3" font-size="9.4" text-anchor="middle" textLength="49.6764" lengthAdjust="spacingAndGlyphs" stroke="#000" stroke-width="0.08">+151 days</text>
<text x="1375" y="592.3" font-size="9.4" text-anchor="middle" textLength="30.2" lengthAdjust="spacingAndGlyphs" stroke="#000" stroke-width="0.08">-00°21'</text>
<g fill="none" stroke="#800000" stroke-width="1.125" stroke-linecap="butt"><circle cx="735.2" cy="599.45" r="1.35"/><path d="M731.96 598.1 A3.24 3.51 0 0 0 738.44 598.1"/><path d="M735.2 601.61V606.74M732.86 604.4H737.54"/></g>
<text x="765.7" y="605.34" font-size="9.4" fill="#800000" textLength="24.6173" lengthAdjust="spacingAndGlyphs" stroke="#800000" stroke-width="0.08">Pluto</text>
<text x="920.79" y="607.30" font-size="14.09" font-family="DejaVu Sans" fill="#2fb5b5" stroke="#2fb5b5" stroke-width="0.25">♒&#xFE0E;</text>
<text x="966.5" y="605.34" font-size="9.4" text-anchor="middle" textLength="5.89542" lengthAdjust="spacingAndGlyphs" stroke="#000" stroke-width="0.08">6</text>
<text x="1035" y="605.34" font-size="9.4" text-anchor="middle" textLength="5.89542" lengthAdjust="spacingAndGlyphs" stroke="#000" stroke-width="0.08">4</text>
<text x="1088.1" y="605.34" font-size="9.4" fill="#2fb5b5" textLength="13.6" lengthAdjust="spacingAndGlyphs" stroke="#2fb5b5" stroke-width="0.08">02°</text>
<text x="1100.39" y="607.60" font-size="14.09" font-family="DejaVu Sans" fill="#2fb5b5" stroke="#2fb5b5" stroke-width="0.25">♒&#xFE0E;</text>
<text x="1111.7" y="605.34" font-size="9.4" fill="#2fb5b5" textLength="9.1" lengthAdjust="spacingAndGlyphs" stroke="#2fb5b5" stroke-width="0.08">54</text>
<text x="1124.2" y="605.34" font-size="9.4" fill="#2fb5b5">R<tspan font-size="5.64" dy="2" dx="-1.8">x</tspan></text>
<text x="1271.3" y="605.34" font-size="9.4" text-anchor="middle" textLength="43.7254" lengthAdjust="spacingAndGlyphs" stroke="#000" stroke-width="0.08">+94 days</text>
<text x="1375" y="605.34" font-size="9.4" text-anchor="middle" textLength="30.2" lengthAdjust="spacingAndGlyphs" stroke="#000" stroke-width="0.08">-23°08'</text>
<text x="730.49" y="618.90" font-size="11.94" font-family="DejaVu Sans" fill="#007a00" stroke="#007a00" stroke-width="0.5">⚷&#xFE0E;</text>
<text x="765.7" y="618.38" font-size="9.4" fill="#007a00" textLength="31.8161" lengthAdjust="spacingAndGlyphs" stroke="#007a00" stroke-width="0.08">Chiron</text>
<text x="922.65" y="618.81" font-size="9.94" font-family="DejaVu Sans" fill="#b81414" stroke="#b81414" stroke-width="0.25">♈&#xFE0E;</text>
<text x="966.5" y="618.38" font-size="9.4" text-anchor="middle" textLength="5.89542" lengthAdjust="spacingAndGlyphs" stroke="#000" stroke-width="0.08">9</text>
<text x="1035" y="618.38" font-size="9.4" text-anchor="middle" textLength="3.5303" lengthAdjust="spacingAndGlyphs" stroke="#000" stroke-width="0.08">-</text>
<text x="1088.1" y="618.38" font-size="9.4" fill="#b81414" textLength="13.6" lengthAdjust="spacingAndGlyphs" stroke="#b81414" stroke-width="0.08">27°</text>
<text x="1102.25" y="619.11" font-size="9.94" font-family="DejaVu Sans" fill="#b81414" stroke="#b81414" stroke-width="0.25">♈&#xFE0E;</text>
<text x="1111.7" y="618.38" font-size="9.4" fill="#b81414" textLength="9.1" lengthAdjust="spacingAndGlyphs" stroke="#b81414" stroke-width="0.08">00</text>
<text x="1271.3" y="618.38" font-size="9.4" text-anchor="middle" textLength="43.7254" lengthAdjust="spacingAndGlyphs" stroke="#000" stroke-width="0.08">+18 days</text>
<text x="1375" y="618.38" font-size="9.4" text-anchor="middle" textLength="30.2" lengthAdjust="spacingAndGlyphs" stroke="#000" stroke-width="0.08">+11°03'</text>
<text x="730.17" y="631.43" font-size="11.83" font-family="DejaVu Sans" fill="#000" stroke="#000" stroke-width="0.5">⚶&#xFE0E;</text>
<text x="765.7" y="631.42" font-size="9.4" textLength="27.0219" lengthAdjust="spacingAndGlyphs" stroke="#000" stroke-width="0.08">Vesta</text>
<text x="922.21" y="631.68" font-size="10.89" font-family="DejaVu Sans" fill="#00009c" stroke="#00009c" stroke-width="0.25">♏&#xFE0E;</text>
<text x="966.5" y="631.42" font-size="9.4" text-anchor="middle" textLength="5.89542" lengthAdjust="spacingAndGlyphs" stroke="#000" stroke-width="0.08">4</text>
<text x="1035" y="631.42" font-size="9.4" text-anchor="middle" textLength="3.5303" lengthAdjust="spacingAndGlyphs" stroke="#000" stroke-width="0.08">-</text>
<text x="1088.1" y="631.42" font-size="9.4" fill="#00009c" textLength="13.6" lengthAdjust="spacingAndGlyphs" stroke="#00009c" stroke-width="0.08">08°</text>
<text x="1101.81" y="631.98" font-size="10.89" font-family="DejaVu Sans" fill="#00009c" stroke="#00009c" stroke-width="0.25">♏&#xFE0E;</text>
<text x="1111.7" y="631.42" font-size="9.4" fill="#00009c" textLength="9.1" lengthAdjust="spacingAndGlyphs" stroke="#00009c" stroke-width="0.08">08</text>
<text x="1271.3" y="631.42" font-size="9.4" text-anchor="middle" textLength="49.6764" lengthAdjust="spacingAndGlyphs" stroke="#000" stroke-width="0.08">+410 days</text>
<text x="1375" y="631.42" font-size="9.4" text-anchor="middle" textLength="30.2" lengthAdjust="spacingAndGlyphs" stroke="#000" stroke-width="0.08">-08°26'</text>
<text x="731.05" y="644.80" font-size="11.34" font-family="DejaVu Sans" fill="#000" stroke="#000" stroke-width="0.5">⚴&#xFE0E;</text>
<text x="765.7" y="644.46" font-size="9.4" textLength="29.4165" lengthAdjust="spacingAndGlyphs" stroke="#000" stroke-width="0.08">Pallas</text>
<text x="920.79" y="646.42" font-size="14.09" font-family="DejaVu Sans" fill="#2fb5b5" stroke="#2fb5b5" stroke-width="0.25">♒&#xFE0E;</text>
<text x="966.5" y="644.46" font-size="9.4" text-anchor="middle" textLength="5.89542" lengthAdjust="spacingAndGlyphs" stroke="#000" stroke-width="0.08">7</text>
<text x="1035" y="644.46" font-size="9.4" text-anchor="middle" textLength="3.5303" lengthAdjust="spacingAndGlyphs" stroke="#000" stroke-width="0.08">-</text>
<text x="1088.1" y="644.46" font-size="9.4" fill="#2fb5b5" textLength="13.6" lengthAdjust="spacingAndGlyphs" stroke="#2fb5b5" stroke-width="0.08">22°</text>
<text x="1100.39" y="646.72" font-size="14.09" font-family="DejaVu Sans" fill="#2fb5b5" stroke="#2fb5b5" stroke-width="0.25">♒&#xFE0E;</text>
<text x="1111.7" y="644.46" font-size="9.4" fill="#2fb5b5" textLength="9.1" lengthAdjust="spacingAndGlyphs" stroke="#2fb5b5" stroke-width="0.08">06</text>
<text x="1124.2" y="644.46" font-size="9.4" fill="#2fb5b5">R<tspan font-size="5.64" dy="2" dx="-1.8">x</tspan></text>
<text x="1271.3" y="644.46" font-size="9.4" text-anchor="middle" textLength="43.7254" lengthAdjust="spacingAndGlyphs" stroke="#000" stroke-width="0.08">+84 days</text>
<text x="1375" y="644.46" font-size="9.4" text-anchor="middle" textLength="30.2" lengthAdjust="spacingAndGlyphs" stroke="#000" stroke-width="0.08">+17°13'</text>
<text x="731.05" y="657.84" font-size="11.34" font-family="DejaVu Sans" fill="#000" stroke="#000" stroke-width="0.5">⚵&#xFE0E;</text>
<text x="765.7" y="657.5" font-size="9.4" textLength="23.42" lengthAdjust="spacingAndGlyphs" stroke="#000" stroke-width="0.08">Juno</text>
<text x="922.21" y="657.76" font-size="10.89" font-family="DejaVu Sans" fill="#00009c" stroke="#00009c" stroke-width="0.25">♏&#xFE0E;</text>
<text x="966.5" y="657.5" font-size="9.4" text-anchor="middle" textLength="5.89542" lengthAdjust="spacingAndGlyphs" stroke="#000" stroke-width="0.08">4</text>
<text x="1035" y="657.5" font-size="9.4" text-anchor="middle" textLength="3.5303" lengthAdjust="spacingAndGlyphs" stroke="#000" stroke-width="0.08">-</text>
<text x="1088.1" y="657.5" font-size="9.4" fill="#00009c" textLength="13.6" lengthAdjust="spacingAndGlyphs" stroke="#00009c" stroke-width="0.08">16°</text>
<text x="1101.81" y="658.06" font-size="10.89" font-family="DejaVu Sans" fill="#00009c" stroke="#00009c" stroke-width="0.25">♏&#xFE0E;</text>
<text x="1111.7" y="657.5" font-size="9.4" fill="#00009c" textLength="9.1" lengthAdjust="spacingAndGlyphs" stroke="#00009c" stroke-width="0.08">14</text>
<text x="1271.3" y="657.5" font-size="9.4" text-anchor="middle" textLength="49.6764" lengthAdjust="spacingAndGlyphs" stroke="#000" stroke-width="0.08">+329 days</text>
<text x="1375" y="657.5" font-size="9.4" text-anchor="middle" textLength="30.2" lengthAdjust="spacingAndGlyphs" stroke="#000" stroke-width="0.08">-02°19'</text>
<text x="730.58" y="670.88" font-size="11.34" font-family="DejaVu Sans" fill="#000" stroke="#000" stroke-width="0.5">⚳&#xFE0E;</text>
<text x="765.7" y="670.54" font-size="9.4" textLength="28.8098" lengthAdjust="spacingAndGlyphs" stroke="#000" stroke-width="0.08">Ceres</text>
<text x="922.65" y="670.97" font-size="9.94" font-family="DejaVu Sans" fill="#b81414" stroke="#b81414" stroke-width="0.25">♈&#xFE0E;</text>
<text x="966.5" y="670.54" font-size="9.4" text-anchor="middle" textLength="5.89542" lengthAdjust="spacingAndGlyphs" stroke="#000" stroke-width="0.08">9</text>
<text x="1035" y="670.54" font-size="9.4" text-anchor="middle" textLength="3.5303" lengthAdjust="spacingAndGlyphs" stroke="#000" stroke-width="0.08">-</text>
<text x="1088.1" y="670.54" font-size="9.4" fill="#b81414" textLength="13.6" lengthAdjust="spacingAndGlyphs" stroke="#b81414" stroke-width="0.08">14°</text>
<text x="1102.25" y="671.27" font-size="9.94" font-family="DejaVu Sans" fill="#b81414" stroke="#b81414" stroke-width="0.25">♈&#xFE0E;</text>
<text x="1111.7" y="670.54" font-size="9.4" fill="#b81414" textLength="9.1" lengthAdjust="spacingAndGlyphs" stroke="#b81414" stroke-width="0.08">07</text>
<text x="1271.3" y="670.54" font-size="9.4" text-anchor="middle" textLength="43.7254" lengthAdjust="spacingAndGlyphs" stroke="#000" stroke-width="0.08">+31 days</text>
<text x="1375" y="670.54" font-size="9.4" text-anchor="middle" textLength="30.2" lengthAdjust="spacingAndGlyphs" stroke="#000" stroke-width="0.08">-05°10'</text>
<text x="729.70" y="684.98" font-size="12.38" font-family="DejaVu Sans" fill="#000" stroke="#000" stroke-width="0.5">☊&#xFE0E;</text>
<text x="765.7" y="683.58" font-size="9.4" textLength="55.2302" lengthAdjust="spacingAndGlyphs" stroke="#000" stroke-width="0.08">North Node</text>
<text x="921.58" y="684.88" font-size="12.32" font-family="DejaVu Sans" fill="#00009c" stroke="#00009c" stroke-width="0.25">♓&#xFE0E;</text>
<text x="966.5" y="683.58" font-size="9.4" text-anchor="middle" textLength="5.89542" lengthAdjust="spacingAndGlyphs" stroke="#000" stroke-width="0.08">8</text>
<text x="1035" y="683.58" font-size="9.4" text-anchor="middle" textLength="3.5303" lengthAdjust="spacingAndGlyphs" stroke="#000" stroke-width="0.08">-</text>
<text x="1088.1" y="683.58" font-size="9.4" fill="#00009c" textLength="13.6" lengthAdjust="spacingAndGlyphs" stroke="#00009c" stroke-width="0.08">21°</text>
<text x="1101.18" y="685.18" font-size="12.32" font-family="DejaVu Sans" fill="#00009c" stroke="#00009c" stroke-width="0.25">♓&#xFE0E;</text>
<text x="1111.7" y="683.58" font-size="9.4" fill="#00009c" textLength="9.1" lengthAdjust="spacingAndGlyphs" stroke="#00009c" stroke-width="0.08">21</text>
<text x="1124.2" y="683.58" font-size="9.4" fill="#00009c">R<tspan font-size="5.64" dy="2" dx="-1.8">x</tspan></text>
<text x="1271.3" y="683.58" font-size="9.4" text-anchor="middle" textLength="3.5636" lengthAdjust="spacingAndGlyphs" stroke="#000" stroke-width="0.08">-</text>
<text x="1375" y="683.58" font-size="9.4" text-anchor="middle" textLength="30.2" lengthAdjust="spacingAndGlyphs" stroke="#000" stroke-width="0.08">-03°25'</text>
<text x="729.67" y="698.02" font-size="12.45" font-family="DejaVu Sans" fill="#000" stroke="#000" stroke-width="0.5">☋&#xFE0E;</text>
<text x="765.7" y="696.62" font-size="9.4" textLength="57.0443" lengthAdjust="spacingAndGlyphs" stroke="#000" stroke-width="0.08">South Node</text>
<text x="922.67" y="696.14" font-size="9.88" font-family="DejaVu Sans" fill="#2fc62f" stroke="#2fc62f" stroke-width="0.25">♍&#xFE0E;</text>
<text x="966.5" y="696.62" font-size="9.4" text-anchor="middle" textLength="5.89542" lengthAdjust="spacingAndGlyphs" stroke="#000" stroke-width="0.08">2</text>
<text x="1035" y="696.62" font-size="9.4" text-anchor="middle" textLength="3.5303" lengthAdjust="spacingAndGlyphs" stroke="#000" stroke-width="0.08">-</text>
<text x="1088.1" y="696.62" font-size="9.4" fill="#2fc62f" textLength="13.6" lengthAdjust="spacingAndGlyphs" stroke="#2fc62f" stroke-width="0.08">21°</text>
<text x="1102.27" y="696.44" font-size="9.88" font-family="DejaVu Sans" fill="#2fc62f" stroke="#2fc62f" stroke-width="0.25">♍&#xFE0E;</text>
<text x="1111.7" y="696.62" font-size="9.4" fill="#2fc62f" textLength="9.1" lengthAdjust="spacingAndGlyphs" stroke="#2fc62f" stroke-width="0.08">21</text>
<text x="1124.2" y="696.62" font-size="9.4" fill="#2fc62f">R<tspan font-size="5.64" dy="2" dx="-1.8">x</tspan></text>
<text x="1271.3" y="696.62" font-size="9.4" text-anchor="middle" textLength="3.5636" lengthAdjust="spacingAndGlyphs" stroke="#000" stroke-width="0.08">-</text>
<text x="1375" y="696.62" font-size="9.4" text-anchor="middle" textLength="30.2" lengthAdjust="spacingAndGlyphs" stroke="#000" stroke-width="0.08">+03°25'</text>
<text x="735.2" y="710.7" font-size="10.8" text-anchor="middle" font-weight="bold" fill="#000" stroke="#000" stroke-width="0.25" textLength="10.08" lengthAdjust="spacingAndGlyphs">A<tspan font-size="8.856">s</tspan></text>
<text x="765.7" y="709.66" font-size="9.4" textLength="51.0376" lengthAdjust="spacingAndGlyphs" stroke="#000" stroke-width="0.08">Ascendant</text>
<text x="921.58" y="710.96" font-size="12.32" font-family="DejaVu Sans" fill="#b81414" stroke="#b81414" stroke-width="0.25">♌&#xFE0E;</text>
<text x="966.5" y="709.66" font-size="9.4" text-anchor="middle" textLength="5.89542" lengthAdjust="spacingAndGlyphs" stroke="#000" stroke-width="0.08">1</text>
<text x="1035" y="709.66" font-size="9.4" text-anchor="middle" textLength="3.5303" lengthAdjust="spacingAndGlyphs" stroke="#000" stroke-width="0.08">-</text>
<text x="1088.1" y="709.66" font-size="9.4" fill="#b81414" textLength="13.6" lengthAdjust="spacingAndGlyphs" stroke="#b81414" stroke-width="0.08">16°</text>
<text x="1101.18" y="711.26" font-size="12.32" font-family="DejaVu Sans" fill="#b81414" stroke="#b81414" stroke-width="0.25">♌&#xFE0E;</text>
<text x="1111.7" y="709.66" font-size="9.4" fill="#b81414" textLength="25.4" lengthAdjust="spacingAndGlyphs" stroke="#b81414" stroke-width="0.08">29'50"</text>
<text x="1271.3" y="709.66" font-size="9.4" text-anchor="middle" textLength="3.5636" lengthAdjust="spacingAndGlyphs" stroke="#000" stroke-width="0.08">-</text>
<text x="1375" y="709.66" font-size="9.4" text-anchor="middle" textLength="30.2" lengthAdjust="spacingAndGlyphs" stroke="#000" stroke-width="0.08">+15°53'</text>
<text x="735.2" y="723.74" font-size="10.8" text-anchor="middle" font-weight="bold" fill="#000" stroke="#000" stroke-width="0.25" textLength="10.08" lengthAdjust="spacingAndGlyphs">M<tspan font-size="8.856">c</tspan></text>
<text x="765.7" y="722.7" font-size="9.4" textLength="52.8365" lengthAdjust="spacingAndGlyphs" stroke="#000" stroke-width="0.08">Midheaven</text>
<text x="922.23" y="723.47" font-size="10.87" font-family="DejaVu Sans" fill="#2fc62f" stroke="#2fc62f" stroke-width="0.25">♉&#xFE0E;</text>
<text x="966.5" y="722.7" font-size="9.4" text-anchor="middle" textLength="11.7908" lengthAdjust="spacingAndGlyphs" stroke="#000" stroke-width="0.08">10</text>
<text x="1035" y="722.7" font-size="9.4" text-anchor="middle" textLength="3.5303" lengthAdjust="spacingAndGlyphs" stroke="#000" stroke-width="0.08">-</text>
<text x="1088.1" y="722.7" font-size="9.4" fill="#2fc62f" textLength="13.6" lengthAdjust="spacingAndGlyphs" stroke="#2fc62f" stroke-width="0.08">04°</text>
<text x="1101.83" y="723.77" font-size="10.87" font-family="DejaVu Sans" fill="#2fc62f" stroke="#2fc62f" stroke-width="0.25">♉&#xFE0E;</text>
<text x="1111.7" y="722.7" font-size="9.4" fill="#2fc62f" textLength="25.4" lengthAdjust="spacingAndGlyphs" stroke="#2fc62f" stroke-width="0.08">21'33"</text>
<text x="1271.3" y="722.7" font-size="9.4" text-anchor="middle" textLength="3.5636" lengthAdjust="spacingAndGlyphs" stroke="#000" stroke-width="0.08">-</text>
<text x="1375" y="722.7" font-size="9.4" text-anchor="middle" textLength="30.2" lengthAdjust="spacingAndGlyphs" stroke="#000" stroke-width="0.08">+12°58'</text>
<text x="731.24" y="736.08" font-size="11.30" font-family="DejaVu Sans" fill="#000" stroke="#000" stroke-width="0.5">⚸&#xFE0E;</text>
<text x="765.7" y="735.74" font-size="9.4" textLength="56.4275" lengthAdjust="spacingAndGlyphs" stroke="#000" stroke-width="0.08">Black Moon</text>
<text x="922.21" y="736.00" font-size="10.89" font-family="DejaVu Sans" fill="#00009c" stroke="#00009c" stroke-width="0.25">♏&#xFE0E;</text>
<text x="966.5" y="735.74" font-size="9.4" text-anchor="middle" textLength="5.89542" lengthAdjust="spacingAndGlyphs" stroke="#000" stroke-width="0.08">4</text>
<text x="1035" y="735.74" font-size="9.4" text-anchor="middle" textLength="3.5303" lengthAdjust="spacingAndGlyphs" stroke="#000" stroke-width="0.08">-</text>
<text x="1088.1" y="735.74" font-size="9.4" fill="#00009c" textLength="13.6" lengthAdjust="spacingAndGlyphs" stroke="#00009c" stroke-width="0.08">11°</text>
<text x="1101.81" y="736.30" font-size="10.89" font-family="DejaVu Sans" fill="#00009c" stroke="#00009c" stroke-width="0.25">♏&#xFE0E;</text>
<text x="1111.7" y="735.74" font-size="9.4" fill="#00009c" textLength="9.1" lengthAdjust="spacingAndGlyphs" stroke="#00009c" stroke-width="0.08">52</text>
<text x="1271.3" y="735.74" font-size="9.4" text-anchor="middle" textLength="3.5636" lengthAdjust="spacingAndGlyphs" stroke="#000" stroke-width="0.08">-</text>
<text x="1375" y="735.74" font-size="9.4" text-anchor="middle" textLength="30.2" lengthAdjust="spacingAndGlyphs" stroke="#000" stroke-width="0.08">-19°10'</text>
<text x="735.2" y="749.82" font-size="10.8" text-anchor="middle" font-weight="bold" fill="#000" stroke="#000" stroke-width="0.25" textLength="10.08" lengthAdjust="spacingAndGlyphs">D<tspan font-size="8.856">s</tspan></text>
<text x="765.7" y="748.78" font-size="9.4" textLength="57.6399" lengthAdjust="spacingAndGlyphs" stroke="#000" stroke-width="0.08">Descendant</text>
<text x="920.79" y="750.74" font-size="14.09" font-family="DejaVu Sans" fill="#2fb5b5" stroke="#2fb5b5" stroke-width="0.25">♒&#xFE0E;</text>
<text x="966.5" y="748.78" font-size="9.4" text-anchor="middle" textLength="5.89542" lengthAdjust="spacingAndGlyphs" stroke="#000" stroke-width="0.08">7</text>
<text x="1035" y="748.78" font-size="9.4" text-anchor="middle" textLength="3.5303" lengthAdjust="spacingAndGlyphs" stroke="#000" stroke-width="0.08">-</text>
<text x="1088.1" y="748.78" font-size="9.4" fill="#2fb5b5" textLength="13.6" lengthAdjust="spacingAndGlyphs" stroke="#2fb5b5" stroke-width="0.08">16°</text>
<text x="1100.39" y="751.04" font-size="14.09" font-family="DejaVu Sans" fill="#2fb5b5" stroke="#2fb5b5" stroke-width="0.25">♒&#xFE0E;</text>
<text x="1111.7" y="748.78" font-size="9.4" fill="#2fb5b5" textLength="9.1" lengthAdjust="spacingAndGlyphs" stroke="#2fb5b5" stroke-width="0.08">29</text>
<text x="1271.3" y="748.78" font-size="9.4" text-anchor="middle" textLength="3.5636" lengthAdjust="spacingAndGlyphs" stroke="#000" stroke-width="0.08">-</text>
<text x="1375" y="748.78" font-size="9.4" text-anchor="middle" textLength="30.2" lengthAdjust="spacingAndGlyphs" stroke="#000" stroke-width="0.08">-15°53'</text>
<text x="735.2" y="762.86" font-size="10.8" text-anchor="middle" font-weight="bold" fill="#000" stroke="#000" stroke-width="0.25" textLength="10.08" lengthAdjust="spacingAndGlyphs">I<tspan font-size="8.856">c</tspan></text>
<text x="765.7" y="761.82" font-size="9.4" textLength="54.6134" lengthAdjust="spacingAndGlyphs" stroke="#000" stroke-width="0.08">Imum Coeli</text>
<text x="922.21" y="762.08" font-size="10.89" font-family="DejaVu Sans" fill="#00009c" stroke="#00009c" stroke-width="0.25">♏&#xFE0E;</text>
<text x="966.5" y="761.82" font-size="9.4" text-anchor="middle" textLength="5.89542" lengthAdjust="spacingAndGlyphs" stroke="#000" stroke-width="0.08">4</text>
<text x="1035" y="761.82" font-size="9.4" text-anchor="middle" textLength="3.5303" lengthAdjust="spacingAndGlyphs" stroke="#000" stroke-width="0.08">-</text>
<text x="1088.1" y="761.82" font-size="9.4" fill="#00009c" textLength="13.6" lengthAdjust="spacingAndGlyphs" stroke="#00009c" stroke-width="0.08">04°</text>
<text x="1101.81" y="762.38" font-size="10.89" font-family="DejaVu Sans" fill="#00009c" stroke="#00009c" stroke-width="0.25">♏&#xFE0E;</text>
<text x="1111.7" y="761.82" font-size="9.4" fill="#00009c" textLength="9.1" lengthAdjust="spacingAndGlyphs" stroke="#00009c" stroke-width="0.08">21</text>
<text x="1271.3" y="761.82" font-size="9.4" text-anchor="middle" textLength="3.5636" lengthAdjust="spacingAndGlyphs" stroke="#000" stroke-width="0.08">-</text>
<text x="1375" y="761.82" font-size="9.4" text-anchor="middle" textLength="30.2" lengthAdjust="spacingAndGlyphs" stroke="#000" stroke-width="0.08">-12°58'</text>
<g fill="none" stroke="#000" stroke-width="1.125"><circle cx="735.2" cy="769.42" r="1.98"/><path d="M735.2 771.4V776.08M732.86 773.74L735.2 776.26L737.54 773.74"/></g>
<text x="765.7" y="774.86" font-size="9.4" textLength="18.6005" lengthAdjust="spacingAndGlyphs" stroke="#000" stroke-width="0.08">Eris</text>
<text x="922.65" y="775.29" font-size="9.94" font-family="DejaVu Sans" fill="#b81414" stroke="#b81414" stroke-width="0.25">♈&#xFE0E;</text>
<text x="966.5" y="774.86" font-size="9.4" text-anchor="middle" textLength="5.89542" lengthAdjust="spacingAndGlyphs" stroke="#000" stroke-width="0.08">9</text>
<text x="1035" y="774.86" font-size="9.4" text-anchor="middle" textLength="3.5303" lengthAdjust="spacingAndGlyphs" stroke="#000" stroke-width="0.08">-</text>
<text x="1088.1" y="774.86" font-size="9.4" fill="#b81414" textLength="13.6" lengthAdjust="spacingAndGlyphs" stroke="#b81414" stroke-width="0.08">25°</text>
<text x="1102.25" y="775.59" font-size="9.94" font-family="DejaVu Sans" fill="#b81414" stroke="#b81414" stroke-width="0.25">♈&#xFE0E;</text>
<text x="1111.7" y="774.86" font-size="9.4" fill="#b81414" textLength="9.1" lengthAdjust="spacingAndGlyphs" stroke="#b81414" stroke-width="0.08">43</text>
<text x="1271.3" y="774.86" font-size="9.4" text-anchor="middle" textLength="43.7254" lengthAdjust="spacingAndGlyphs" stroke="#000" stroke-width="0.08">+10 days</text>
<text x="1375" y="774.86" font-size="9.4" text-anchor="middle" textLength="30.2" lengthAdjust="spacingAndGlyphs" stroke="#000" stroke-width="0.08">+00°00'</text>
</g>
<g id="aspects" fill="none" shape-rendering="crispEdges">
<path d="M404.3 474.6L245.4 488.1" stroke="#d41818" stroke-width="2"/>
<path d="M404.3 474.6L394.7 435.5M392.3 425.7L382.6 386.6" stroke="#1818cc" stroke-width="1" stroke-dasharray="9 9"/>
<path d="M390.3 430.6H396.7M391.7 427.6L395.3 433.6M395.3 427.6L391.7 433.6" stroke="#1818cc" stroke-width="0.9"/>
<path d="M404.3 474.6L356.3 423.1M349.5 415.8L301.5 364.3" stroke="#1818cc" stroke-width="1"/>
<path d="M349.9 421.9L352.9 416.4L355.9 421.9Z" stroke="#1818cc" stroke-width="0.9"/>
<path d="M404.3 474.6L394.5 435.3M392.1 425.6L382.4 386.4" stroke="#1818cc" stroke-width="1" stroke-dasharray="9 9"/>
<path d="M390.1 430.5H396.5M391.5 427.5L395.1 433.5M395.1 427.5L391.5 433.5" stroke="#1818cc" stroke-width="0.9"/>
<path d="M404.3 474.6L379.8 425.1M375.3 416.2L350.8 366.7" stroke="#d41818" stroke-width="1"/>
<rect x="375.0" y="418.2" width="5" height="5" stroke="#d41818" stroke-width="0.9"/>
<path d="M404.3 474.6L380.6 425.5M376.3 416.5L352.6 367.4" stroke="#d41818" stroke-width="1"/>
<rect x="376.0" y="418.5" width="5" height="5" stroke="#d41818" stroke-width="0.9"/>
<path d="M404.3 474.6L374.7 423.5M369.7 414.8L340.2 363.7" stroke="#d41818" stroke-width="1" stroke-dasharray="9 9"/>
<rect x="369.7" y="416.6" width="5" height="5" stroke="#d41818" stroke-width="0.9"/>
<path d="M399.0 487.3L326.5 450.5M317.5 445.9L245.0 409.1" stroke="#d41818" stroke-width="2"/>
<path d="M320.0 450.2L324.0 446.2" stroke="#d41818" stroke-width="1"/><circle cx="319.0" cy="451.2" r="1.6" stroke="#d41818"/><circle cx="325.0" cy="445.2" r="1.6" stroke="#d41818"/>
<path d="M399.0 487.3L326.8 449.8M317.9 445.2L245.7 407.7" stroke="#d41818" stroke-width="1"/>
<path d="M320.3 449.5L324.3 445.5" stroke="#d41818" stroke-width="1"/><circle cx="319.3" cy="450.5" r="1.6" stroke="#d41818"/><circle cx="325.3" cy="444.5" r="1.6" stroke="#d41818"/>
<path d="M399.0 487.3L327.2 487.7M317.2 487.7L245.4 488.1" stroke="#1818cc" stroke-width="1" stroke-dasharray="9 9"/>
<path d="M319.2 490.2L322.2 484.7L325.2 490.2Z" stroke="#1818cc" stroke-width="0.9"/>
<path d="M399.0 487.3L364.6 508.4M356.1 513.6L321.6 534.6" stroke="#1818cc" stroke-width="1" stroke-dasharray="9 9"/>
<path d="M357.1 511.0H363.5M358.5 508.0L362.1 514.0M362.1 508.0L358.5 514.0" stroke="#1818cc" stroke-width="0.9"/>
<path d="M399.0 487.3L385.0 436.1M382.3 426.5L368.3 375.2" stroke="#d41818" stroke-width="1" stroke-dasharray="9 9"/>
<rect x="381.1" y="428.8" width="5" height="5" stroke="#d41818" stroke-width="0.9"/>
<path d="M399.0 487.3L396.3 448.1M395.6 438.1L392.9 398.8" stroke="#1818cc" stroke-width="1"/>
<path d="M392.8 443.1H399.2M394.2 440.1L397.8 446.1M397.8 440.1L394.2 446.1" stroke="#1818cc" stroke-width="0.9"/>
<path d="M399.0 487.3L330.1 492.1M320.1 492.8L251.1 497.6" stroke="#1818cc" stroke-width="1"/>
<path d="M322.1 495.0L325.1 489.5L328.1 495.0Z" stroke="#1818cc" stroke-width="0.9"/>
<path d="M399.0 487.3L377.6 432.0M374.0 422.7L352.6 367.4" stroke="#d41818" stroke-width="1" stroke-dasharray="9 9"/>
<rect x="373.3" y="424.9" width="5" height="5" stroke="#d41818" stroke-width="0.9"/>
<path d="M245.0 409.1L280.7 467.6M285.9 476.1L321.6 534.6" stroke="#1818cc" stroke-width="1"/>
<path d="M280.3 474.3L283.3 468.8L286.3 474.3Z" stroke="#1818cc" stroke-width="0.9"/>
<path d="M245.0 409.1L301.8 393.5M311.4 390.8L368.3 375.2" stroke="#d41818" stroke-width="1" stroke-dasharray="9 9"/>
<rect x="304.1" y="389.6" width="5" height="5" stroke="#d41818" stroke-width="0.9"/>
<path d="M245.0 409.1L313.9 404.3M323.9 403.6L392.9 398.8" stroke="#1818cc" stroke-width="1"/>
<path d="M315.9 406.4L318.9 400.9L321.9 406.4Z" stroke="#1818cc" stroke-width="0.9"/>
<path d="M245.0 409.1L247.7 448.3M248.4 458.3L251.1 497.6" stroke="#1818cc" stroke-width="1"/>
<path d="M244.8 453.3H251.2M246.2 450.3L249.8 456.3M249.8 450.3L246.2 456.3" stroke="#1818cc" stroke-width="0.9"/>
<path d="M245.0 409.1L294.1 390.0M303.5 386.4L352.6 367.4" stroke="#d41818" stroke-width="1" stroke-dasharray="9 9"/>
<rect x="296.3" y="385.7" width="5" height="5" stroke="#d41818" stroke-width="0.9"/>
<path d="M245.7 407.7L245.5 442.9M245.5 452.9L245.4 488.1" stroke="#1818cc" stroke-width="1" stroke-dasharray="9 9"/>
<path d="M242.3 447.9H248.7M243.7 444.9L247.3 450.9M247.3 444.9L243.7 450.9" stroke="#1818cc" stroke-width="0.9"/>
<path d="M245.7 407.7L281.1 466.9M286.2 475.5L321.6 534.6" stroke="#1818cc" stroke-width="1"/>
<path d="M280.6 473.7L283.6 468.2L286.6 473.7Z" stroke="#1818cc" stroke-width="0.9"/>
<path d="M245.7 407.7L302.1 392.8M311.8 390.2L368.3 375.2" stroke="#d41818" stroke-width="1" stroke-dasharray="9 9"/>
<rect x="304.5" y="389.0" width="5" height="5" stroke="#d41818" stroke-width="0.9"/>
<path d="M245.7 407.7L314.3 403.6M324.3 403.0L392.9 398.8" stroke="#1818cc" stroke-width="1"/>
<path d="M316.3 405.8L319.3 400.3L322.3 405.8Z" stroke="#1818cc" stroke-width="0.9"/>
<path d="M245.7 407.7L248.1 447.7M248.7 457.7L251.1 497.6" stroke="#1818cc" stroke-width="1"/>
<path d="M245.2 452.7H251.6M246.6 449.7L250.2 455.7M250.2 449.7L246.6 455.7" stroke="#1818cc" stroke-width="0.9"/>
<path d="M245.7 407.7L278.0 466.6M282.8 475.4L315.0 534.3" stroke="#1818cc" stroke-width="1" stroke-dasharray="9 9"/>
<path d="M277.4 473.5L280.4 468.0L283.4 473.5Z" stroke="#1818cc" stroke-width="0.9"/>
<path d="M235.7 444.3L245.4 488.1" stroke="#208020" stroke-width="1" stroke-dasharray="7 9"/>
<path d="M235.7 444.3L269.4 485.1M275.8 492.8L309.5 533.7" stroke="#d41818" stroke-width="1" stroke-dasharray="9 9"/>
<rect x="270.1" y="486.5" width="5" height="5" stroke="#d41818" stroke-width="0.9"/>
<path d="M235.7 444.3L275.2 485.8M282.1 493.1L321.6 534.6" stroke="#d41818" stroke-width="1"/>
<rect x="276.2" y="486.9" width="5" height="5" stroke="#d41818" stroke-width="0.9"/>
<path d="M235.7 444.3L297.5 412.1M306.4 407.4L368.3 375.2" stroke="#1818cc" stroke-width="2"/>
<path d="M299.0 412.3L302.0 406.8L305.0 412.3Z" stroke="#1818cc" stroke-width="1.4"/>
<path d="M235.7 444.3L272.1 485.5M278.7 493.1L315.0 534.3" stroke="#d41818" stroke-width="1"/>
<rect x="272.9" y="486.8" width="5" height="5" stroke="#d41818" stroke-width="0.9"/>
<path d="M290.7 367.7L269.8 423.2M266.3 432.6L245.4 488.1" stroke="#d41818" stroke-width="1" stroke-dasharray="9 9"/>
<rect x="265.5" y="425.4" width="5" height="5" stroke="#d41818" stroke-width="0.9"/>
<path d="M290.7 367.7L255.1 393.5" stroke="#208020" stroke-width="1" stroke-dasharray="7 9"/>
<path d="M290.7 367.7L344.6 414.8M352.1 421.4L406.0 468.5" stroke="#1818cc" stroke-width="1" stroke-dasharray="9 9"/>
<path d="M345.3 420.6L348.3 415.1L351.3 420.6Z" stroke="#1818cc" stroke-width="0.9"/>
<path d="M290.7 367.7L309.5 533.7" stroke="#208020" stroke-width="1" stroke-dasharray="7 9"/>
<path d="M245.4 488.1L279.2 508.7M287.8 514.0L321.6 534.6" stroke="#1818cc" stroke-width="1"/>
<path d="M280.3 511.3H286.7M281.7 508.3L285.3 514.3M285.3 508.3L281.7 514.3" stroke="#1818cc" stroke-width="0.9"/>
<path d="M245.4 488.1L368.3 375.2" stroke="#208020" stroke-width="1" stroke-dasharray="7 9"/>
<path d="M245.4 488.1L314.8 446.0M323.4 440.9L392.9 398.8" stroke="#d41818" stroke-width="1" stroke-dasharray="9 9"/>
<path d="M317.1 445.5L321.1 441.5" stroke="#d41818" stroke-width="1"/><circle cx="316.1" cy="446.5" r="1.6" stroke="#d41818"/><circle cx="322.1" cy="440.5" r="1.6" stroke="#d41818"/>
<path d="M245.4 488.1L276.0 508.4M284.4 514.0L315.0 534.3" stroke="#1818cc" stroke-width="1"/>
<path d="M277.0 511.2H283.4M278.4 508.2L282.0 514.2M282.0 508.2L278.4 514.2" stroke="#1818cc" stroke-width="0.9"/>
<path d="M255.1 393.5L313.9 390.3M323.9 389.8L382.6 386.6" stroke="#d41818" stroke-width="1" stroke-dasharray="9 9"/>
<rect x="316.4" y="387.6" width="5" height="5" stroke="#d41818" stroke-width="0.9"/>
<path d="M255.1 393.5L313.8 390.2M323.7 389.7L382.4 386.4" stroke="#d41818" stroke-width="1" stroke-dasharray="9 9"/>
<rect x="316.2" y="387.5" width="5" height="5" stroke="#d41818" stroke-width="0.9"/>
<path d="M255.1 393.5L280.5 458.9M284.1 468.3L309.5 533.7" stroke="#1818cc" stroke-width="1"/>
<path d="M279.3 466.1L282.3 460.6L285.3 466.1Z" stroke="#1818cc" stroke-width="0.9"/>
<path d="M255.1 393.5L408.0 439.7" stroke="#d41818" stroke-width="2"/>
<path d="M255.1 393.5L306.7 385.2M316.6 383.6L368.3 375.2" stroke="#d41818" stroke-width="1" stroke-dasharray="9 9"/>
<rect x="309.2" y="381.9" width="5" height="5" stroke="#d41818" stroke-width="0.9"/>
<path d="M255.1 393.5L283.1 459.3M287.0 468.5L315.0 534.3" stroke="#1818cc" stroke-width="1" stroke-dasharray="9 9"/>
<path d="M282.1 466.4L285.1 460.9L288.1 466.4Z" stroke="#1818cc" stroke-width="0.9"/>
<path d="M255.1 393.5L292.9 380.3M302.4 377.0L340.2 363.7" stroke="#1818cc" stroke-width="1"/>
<path d="M294.4 378.6H300.8M295.8 375.6L299.4 381.6M299.4 375.6L295.8 381.6" stroke="#1818cc" stroke-width="0.9"/>
<path d="M382.6 386.6L346.9 376.8M337.3 374.1L301.5 364.3" stroke="#1818cc" stroke-width="1"/>
<path d="M338.9 375.5H345.3M340.3 372.5L343.9 378.5M343.9 372.5L340.3 378.5" stroke="#1818cc" stroke-width="0.9"/>
<path d="M382.6 386.6L392.9 422.8M395.7 432.4L406.0 468.5" stroke="#1818cc" stroke-width="1"/>
<path d="M391.1 427.6H397.5M392.5 424.6L396.1 430.6M396.1 424.6L392.5 430.6" stroke="#1818cc" stroke-width="0.9"/>
<path d="M382.6 386.6L321.6 534.6" stroke="#d41818" stroke-width="1"/>
<path d="M382.6 386.6L235.6 448.2" stroke="#d41818" stroke-width="1"/>
<path d="M301.5 364.3L337.1 374.0M346.8 376.6L382.4 386.4" stroke="#1818cc" stroke-width="1"/>
<path d="M338.8 375.3H345.2M340.2 372.3L343.8 378.3M343.8 372.3L340.2 378.3" stroke="#1818cc" stroke-width="0.9"/>
<path d="M301.5 364.3L350.2 412.8M357.3 419.9L406.0 468.5" stroke="#1818cc" stroke-width="1"/>
<path d="M350.8 418.9L353.8 413.4L356.8 418.9Z" stroke="#1818cc" stroke-width="0.9"/>
<path d="M301.5 364.3L368.3 375.2" stroke="#d41818" stroke-width="1" stroke-dasharray="9 9"/>
<path d="M382.4 386.4L392.8 422.6M395.6 432.3L406.0 468.5" stroke="#1818cc" stroke-width="1"/>
<path d="M391.0 427.4H397.4M392.4 424.4L396.0 430.4M396.0 424.4L392.4 430.4" stroke="#1818cc" stroke-width="0.9"/>
<path d="M382.4 386.4L321.6 534.6" stroke="#d41818" stroke-width="1" stroke-dasharray="9 9"/>
<path d="M382.4 386.4L235.6 448.2" stroke="#d41818" stroke-width="1"/>
<path d="M406.0 468.5L380.8 422.0M376.0 413.2L350.8 366.7" stroke="#d41818" stroke-width="1" stroke-dasharray="9 9"/>
<rect x="375.9" y="415.1" width="5" height="5" stroke="#d41818" stroke-width="0.9"/>
<path d="M406.0 468.5L361.9 498.3M353.6 503.9L309.5 533.7" stroke="#d41818" stroke-width="1" stroke-dasharray="9 9"/>
<rect x="355.2" y="498.6" width="5" height="5" stroke="#d41818" stroke-width="0.9"/>
<path d="M406.0 468.5L375.7 420.3M370.4 411.9L340.2 363.7" stroke="#d41818" stroke-width="1"/>
<rect x="370.6" y="413.6" width="5" height="5" stroke="#d41818" stroke-width="0.9"/>
<path d="M350.8 366.7L376.3 399.3M382.5 407.2L408.0 439.7" stroke="#1818cc" stroke-width="1" stroke-dasharray="9 9"/>
<path d="M376.2 403.2H382.6M377.6 400.2L381.2 406.2M381.2 400.2L377.6 406.2" stroke="#1818cc" stroke-width="0.9"/>
<path d="M309.5 533.7L323.9 453.6M325.7 443.8L340.2 363.7" stroke="#d41818" stroke-width="1"/>
<path d="M322.8 450.7L326.8 446.7" stroke="#d41818" stroke-width="1"/><circle cx="321.8" cy="451.7" r="1.6" stroke="#d41818"/><circle cx="327.8" cy="445.7" r="1.6" stroke="#d41818"/>
<path d="M408.0 439.7L368.2 483.5M361.4 490.9L321.6 534.6" stroke="#d41818" stroke-width="1" stroke-dasharray="9 9"/>
<rect x="362.3" y="484.7" width="5" height="5" stroke="#d41818" stroke-width="0.9"/>
<path d="M408.0 439.7L392.9 398.8" stroke="#208020" stroke-width="1" stroke-dasharray="7 9"/>
<path d="M408.0 439.7L251.1 497.6" stroke="#208020" stroke-width="1" stroke-dasharray="7 9"/>
<path d="M408.0 439.7L383.3 407.5M377.3 399.6L352.6 367.4" stroke="#1818cc" stroke-width="1" stroke-dasharray="9 9"/>
<path d="M377.1 403.6H383.5M378.5 400.6L382.1 406.6M382.1 400.6L378.5 406.6" stroke="#1818cc" stroke-width="0.9"/>
<path d="M408.0 439.7L326.8 443.7M316.8 444.2L235.6 448.2" stroke="#d41818" stroke-width="1" stroke-dasharray="9 9"/>
<path d="M319.8 446.0L323.8 442.0" stroke="#d41818" stroke-width="1"/><circle cx="318.8" cy="447.0" r="1.6" stroke="#d41818"/><circle cx="324.8" cy="441.0" r="1.6" stroke="#d41818"/>
<path d="M321.6 534.6L368.3 375.2" stroke="#208020" stroke-width="1" stroke-dasharray="7 9"/>
<path d="M321.6 534.6L354.9 471.1M359.6 462.3L392.9 398.8" stroke="#1818cc" stroke-width="1" stroke-dasharray="9 9"/>
<path d="M354.3 469.2L357.3 463.7L360.3 469.2Z" stroke="#1818cc" stroke-width="0.9"/>
<path d="M321.6 534.6L282.1 494.9M275.1 487.9L235.6 448.2" stroke="#d41818" stroke-width="2"/>
<rect x="276.1" y="488.9" width="5" height="5" stroke="#d41818" stroke-width="1.4"/>
<path d="M368.3 375.2L315.0 534.3" stroke="#208020" stroke-width="1" stroke-dasharray="7 9"/>
<path d="M368.3 375.2L306.3 409.3M297.5 414.1L235.6 448.2" stroke="#1818cc" stroke-width="1"/>
<path d="M298.9 414.2L301.9 408.7L304.9 414.2Z" stroke="#1818cc" stroke-width="0.9"/>
<path d="M315.0 534.3L278.7 494.9M271.9 487.6L235.6 448.2" stroke="#d41818" stroke-width="1" stroke-dasharray="9 9"/>
<rect x="272.8" y="488.8" width="5" height="5" stroke="#d41818" stroke-width="0.9"/>
<path d="M315.0 534.3L326.9 454.0M328.3 444.1L340.2 363.7" stroke="#d41818" stroke-width="1" stroke-dasharray="9 9"/>
<path d="M325.6 451.0L329.6 447.0" stroke="#d41818" stroke-width="1"/><circle cx="324.6" cy="452.0" r="1.6" stroke="#d41818"/><circle cx="330.6" cy="446.0" r="1.6" stroke="#d41818"/>
</g>
<g id="wheel">
<g fill="none" stroke="#000" stroke-width="1" shape-rendering="crispEdges">
<circle cx="322" cy="448.2" r="209.5"/>
<circle cx="322" cy="448.2" r="184.5"/>
<circle cx="322" cy="448.2" r="104.6"/>
<circle cx="322" cy="448.2" r="86.4"/>
</g><g fill="none" stroke="#000" stroke-width="1">
<line x1="235.6" y1="448.5" x2="137.5" y2="448.5"/>
<line x1="240.871" y1="477.916" x2="148.756" y2="511.657"/>
<line x1="261.442" y1="509.825" x2="192.683" y2="579.795"/>
<line x1="303.84" y1="532.67" x2="283.221" y2="628.579"/>
<line x1="358.924" y1="526.313" x2="400.848" y2="615.003"/>
<line x1="397.31" y1="490.548" x2="482.818" y2="538.631"/>
<line x1="408.4" y1="448.5" x2="506.5" y2="448.5"/>
<line x1="403.129" y1="418.484" x2="495.244" y2="384.743"/>
<line x1="382.558" y1="386.575" x2="451.317" y2="316.605"/>
<line x1="340.16" y1="363.73" x2="360.779" y2="267.821"/>
<line x1="285.076" y1="370.087" x2="243.152" y2="281.397"/>
<line x1="246.69" y1="405.852" x2="161.182" y2="357.769"/>
<path d="M360.9 267.3L363.3 276.0L359.8 272.4L355.1 274.3Z" fill="#000" stroke="none"/>
</g>
<text x="126.28" y="433.289" font-size="9" text-anchor="middle" textLength="12" lengthAdjust="spacingAndGlyphs" stroke="#000" stroke-width="0.12">16°</text>
<text x="118.10" y="453.83" font-size="15.40" font-family="DejaVu Sans" fill="#b81414" stroke="#b81414" stroke-width="0.2">♌&#xFE0E;</text>
<text x="126.08" y="468.313" font-size="9" text-anchor="middle" textLength="11" lengthAdjust="spacingAndGlyphs" stroke="#000" stroke-width="0.12">29'</text>
<text x="132.228" y="501.844" font-size="9" text-anchor="middle" textLength="12" lengthAdjust="spacingAndGlyphs" stroke="#000" stroke-width="0.12">06°</text>
<text x="131.48" y="519.35" font-size="12.35" font-family="DejaVu Sans" fill="#2fc62f" stroke="#2fc62f" stroke-width="0.2">♍&#xFE0E;</text>
<text x="144.074" y="534.731" font-size="9" text-anchor="middle" textLength="11" lengthAdjust="spacingAndGlyphs" stroke="#000" stroke-width="0.12">36'</text>
<text x="172.478" y="578.48" font-size="9" text-anchor="middle" textLength="12" lengthAdjust="spacingAndGlyphs" stroke="#000" stroke-width="0.12">01°</text>
<text x="176.70" y="594.39" font-size="16.11" font-family="DejaVu Sans" fill="#2fb5b5" stroke="#2fb5b5" stroke-width="0.2">♎&#xFE0E;</text>
<text x="197.259" y="603.029" font-size="9" text-anchor="middle" textLength="11" lengthAdjust="spacingAndGlyphs" stroke="#000" stroke-width="0.12">59'</text>
<text x="264.137" y="638.956" font-size="9" text-anchor="middle" textLength="12" lengthAdjust="spacingAndGlyphs" stroke="#000" stroke-width="0.12">04°</text>
<text x="274.49" y="645.12" font-size="13.62" font-family="DejaVu Sans" fill="#00009c" stroke="#00009c" stroke-width="0.2">♏&#xFE0E;</text>
<text x="298.179" y="646.318" font-size="9" text-anchor="middle" textLength="11" lengthAdjust="spacingAndGlyphs" stroke="#000" stroke-width="0.12">21'</text>
<text x="390.525" y="635.683" font-size="9" text-anchor="middle" textLength="12" lengthAdjust="spacingAndGlyphs" stroke="#000" stroke-width="0.12">11°</text>
<text x="399.91" y="631.42" font-size="14.02" font-family="DejaVu Sans" fill="#b81414" stroke="#b81414" stroke-width="0.2">♐&#xFE0E;</text>
<text x="421.99" y="620.715" font-size="9" text-anchor="middle" textLength="11" lengthAdjust="spacingAndGlyphs" stroke="#000" stroke-width="0.12">47'</text>
<text x="484.951" y="562.239" font-size="9" text-anchor="middle" textLength="12" lengthAdjust="spacingAndGlyphs" stroke="#000" stroke-width="0.12">17°</text>
<text x="486.82" y="550.38" font-size="15.40" font-family="DejaVu Sans" fill="#2fc62f" stroke="#2fc62f" stroke-width="0.2">♑&#xFE0E;</text>
<text x="501.918" y="531.711" font-size="9" text-anchor="middle" textLength="11" lengthAdjust="spacingAndGlyphs" stroke="#000" stroke-width="0.12">08'</text>
<text x="518.72" y="433.287" font-size="9" text-anchor="middle" textLength="12" lengthAdjust="spacingAndGlyphs" stroke="#000" stroke-width="0.12">16°</text>
<text x="511.11" y="454.64" font-size="17.61" font-family="DejaVu Sans" fill="#2fb5b5" stroke="#2fb5b5" stroke-width="0.2">♒&#xFE0E;</text>
<text x="518.52" y="468.311" font-size="9" text-anchor="middle" textLength="11" lengthAdjust="spacingAndGlyphs" stroke="#000" stroke-width="0.12">29'</text>
<text x="500.726" y="366.869" font-size="9" text-anchor="middle" textLength="12" lengthAdjust="spacingAndGlyphs" stroke="#000" stroke-width="0.12">06°</text>
<text x="500.08" y="386.07" font-size="15.40" font-family="DejaVu Sans" fill="#00009c" stroke="#00009c" stroke-width="0.2">♓&#xFE0E;</text>
<text x="512.572" y="399.756" font-size="9" text-anchor="middle" textLength="11" lengthAdjust="spacingAndGlyphs" stroke="#000" stroke-width="0.12">36'</text>
<text x="447.541" y="298.571" font-size="9" text-anchor="middle" textLength="12" lengthAdjust="spacingAndGlyphs" stroke="#000" stroke-width="0.12">01°</text>
<text x="454.51" y="312.23" font-size="12.42" font-family="DejaVu Sans" fill="#b81414" stroke="#b81414" stroke-width="0.2">♈&#xFE0E;</text>
<text x="472.322" y="323.12" font-size="9" text-anchor="middle" textLength="11" lengthAdjust="spacingAndGlyphs" stroke="#000" stroke-width="0.12">59'</text>
<text x="346.621" y="255.282" font-size="9" text-anchor="middle" textLength="12" lengthAdjust="spacingAndGlyphs" stroke="#000" stroke-width="0.12">04°</text>
<text x="357.32" y="260.56" font-size="13.58" font-family="DejaVu Sans" fill="#2fc62f" stroke="#2fc62f" stroke-width="0.2">♉&#xFE0E;</text>
<text x="380.663" y="262.644" font-size="9" text-anchor="middle" textLength="11" lengthAdjust="spacingAndGlyphs" stroke="#000" stroke-width="0.12">21'</text>
<text x="222.81" y="280.885" font-size="9" text-anchor="middle" textLength="12" lengthAdjust="spacingAndGlyphs" stroke="#000" stroke-width="0.12">11°</text>
<text x="231.96" y="274.87" font-size="13.06" font-family="DejaVu Sans" fill="#2fb5b5" stroke="#2fb5b5" stroke-width="0.2">♊&#xFE0E;</text>
<text x="254.275" y="265.917" font-size="9" text-anchor="middle" textLength="11" lengthAdjust="spacingAndGlyphs" stroke="#000" stroke-width="0.12">47'</text>
<text x="142.882" y="369.889" font-size="9" text-anchor="middle" textLength="12" lengthAdjust="spacingAndGlyphs" stroke="#000" stroke-width="0.12">17°</text>
<text x="144.03" y="356.60" font-size="13.95" font-family="DejaVu Sans" fill="#00009c" stroke="#00009c" stroke-width="0.2">♋&#xFE0E;</text>
<text x="159.849" y="339.361" font-size="9" text-anchor="middle" textLength="11" lengthAdjust="spacingAndGlyphs" stroke="#000" stroke-width="0.12">08'</text>
<text x="227.968" y="467.68" font-size="8" text-anchor="middle" fill="#555566" stroke="#555566" stroke-width="0.12">1</text>
<text x="241.734" y="502.745" font-size="8" text-anchor="middle" fill="#555566" stroke="#555566" stroke-width="0.12">2</text>
<text x="276.701" y="535.073" font-size="8" text-anchor="middle" fill="#555566" stroke="#555566" stroke-width="0.12">3</text>
<text x="332.949" y="545.87" font-size="8" text-anchor="middle" fill="#555566" stroke="#555566" stroke-width="0.12">4</text>
<text x="387.101" y="520.872" font-size="8" text-anchor="middle" fill="#555566" stroke="#555566" stroke-width="0.12">5</text>
<text x="414.385" y="475.193" font-size="8" text-anchor="middle" fill="#555566" stroke="#555566" stroke-width="0.12">6</text>
<text x="416.032" y="434.32" font-size="8" text-anchor="middle" fill="#555566" stroke="#555566" stroke-width="0.12">7</text>
<text x="402.266" y="399.255" font-size="8" text-anchor="middle" fill="#555566" stroke="#555566" stroke-width="0.12">8</text>
<text x="367.299" y="366.927" font-size="8" text-anchor="middle" fill="#555566" stroke="#555566" stroke-width="0.12">9</text>
<text x="311.051" y="356.13" font-size="8" text-anchor="middle" fill="#555566" stroke="#555566" stroke-width="0.12">10</text>
<text x="256.899" y="381.128" font-size="8" text-anchor="middle" fill="#555566" stroke="#555566" stroke-width="0.12">11</text>
<text x="229.615" y="426.807" font-size="8" text-anchor="middle" fill="#555566" stroke="#555566" stroke-width="0.12">12</text>
<text x="476.50" y="507.91" font-size="17.12" font-family="DejaVu Sans" fill="#8c8c00" stroke="#8c8c00" stroke-width="1.0625">☽&#xFE0E;</text>
<text x="469.153" y="498.85" font-size="9" text-anchor="middle" textLength="12" lengthAdjust="spacingAndGlyphs" stroke="#000" stroke-width="0.12">28°</text>
<text x="449.42" y="495.27" font-size="11.09" font-family="DejaVu Sans" fill="#2fc62f" stroke="#2fc62f" stroke-width="0.28">♑&#xFE0E;</text>
<text x="441.943" y="490.274" font-size="9" text-anchor="middle" textLength="11" lengthAdjust="spacingAndGlyphs" stroke="#000" stroke-width="0.12">43'</text>
<text x="469.49" y="530.89" font-size="17.51" font-family="DejaVu Sans" fill="#007a00" stroke="#007a00" stroke-width="0.3">⊕&#xFE0E;</text>
<text x="460.499" y="520.004" font-size="9" text-anchor="middle" textLength="12" lengthAdjust="spacingAndGlyphs" stroke="#000" stroke-width="0.12">19°</text>
<text x="441.61" y="514.36" font-size="11.09" font-family="DejaVu Sans" fill="#2fc62f" stroke="#2fc62f" stroke-width="0.28">♑&#xFE0E;</text>
<text x="434.883" y="507.532" font-size="9" text-anchor="middle" textLength="11" lengthAdjust="spacingAndGlyphs" stroke="#000" stroke-width="0.12">33'</text>
<text x="152.35" y="394.40" font-size="16.26" font-family="DejaVu Sans" fill="#8c8c00" stroke="#8c8c00" stroke-width="0.3">☉&#xFE0E;</text>
<text x="177.784" y="397.955" font-size="9" text-anchor="middle" textLength="12" lengthAdjust="spacingAndGlyphs" stroke="#000" stroke-width="0.12">19°</text>
<text x="185.76" y="404.58" font-size="12.50" font-family="DejaVu Sans" fill="#00009c" stroke="#00009c" stroke-width="0.28" transform="translate(0 112.04) scale(1 0.72)">♋&#xFE0E;</text>
<text x="204.238" y="407.961" font-size="9" text-anchor="middle" textLength="11" lengthAdjust="spacingAndGlyphs" stroke="#000" stroke-width="0.12">33'</text>
<text x="160.03" y="377.20" font-size="17.07" font-family="DejaVu Sans" fill="#e01010" stroke="#e01010" stroke-width="0.3">↓&#xFE0E;</text>
<text x="184.501" y="382.396" font-size="9" text-anchor="middle" textLength="12" lengthAdjust="spacingAndGlyphs" stroke="#000" stroke-width="0.12">18°</text>
<text x="191.82" y="390.53" font-size="12.50" font-family="DejaVu Sans" fill="#00009c" stroke="#00009c" stroke-width="0.28" transform="translate(0 108.10) scale(1 0.72)">♋&#xFE0E;</text>
<text x="209.717" y="395.268" font-size="9" text-anchor="middle" textLength="11" lengthAdjust="spacingAndGlyphs" stroke="#000" stroke-width="0.12">33'</text>
<text x="216.425" y="400.757" font-size="9" fill="#c01010">R<tspan font-size="5.5" dy="1.8" dx="-1.5">x</tspan></text>
<text x="144.25" y="444.55" font-size="16.20" font-family="DejaVu Sans" fill="#800080" stroke="#800080" stroke-width="0.3">☿&#xFE0E;</text>
<text x="168.497" y="443.399" font-size="9" text-anchor="middle" textLength="12" lengthAdjust="spacingAndGlyphs" stroke="#000" stroke-width="0.12">13°</text>
<text x="178.01" y="445.21" font-size="11.09" font-family="DejaVu Sans" fill="#b81414" stroke="#b81414" stroke-width="0.28">♌&#xFE0E;</text>
<text x="196.661" y="445.035" font-size="9" text-anchor="middle" textLength="11" lengthAdjust="spacingAndGlyphs" stroke="#000" stroke-width="0.12">53'</text>
<text x="253.11" y="291.90" font-size="15.75" font-family="DejaVu Sans" fill="#008080" stroke="#008080" stroke-width="0.3">♀&#xFE0E;</text>
<text x="266.236" y="307.631" font-size="9" text-anchor="middle" textLength="12" lengthAdjust="spacingAndGlyphs" stroke="#000" stroke-width="0.12">07°</text>
<text x="267.00" y="322.04" font-size="9.41" font-family="DejaVu Sans" fill="#2fb5b5" stroke="#2fb5b5" stroke-width="0.28">♊&#xFE0E;</text>
<text x="276.399" y="334.273" font-size="9" text-anchor="middle" textLength="11" lengthAdjust="spacingAndGlyphs" stroke="#000" stroke-width="0.12">44'</text>
<text x="161.23" y="534.89" font-size="17.02" font-family="DejaVu Sans" fill="#e00000" stroke="#e00000" stroke-width="0.3">♂&#xFE0E;</text>
<text x="186.098" y="523.117" font-size="9" text-anchor="middle" textLength="12" lengthAdjust="spacingAndGlyphs" stroke="#000" stroke-width="0.12">13°</text>
<text x="194.88" y="515.57" font-size="8.89" font-family="DejaVu Sans" fill="#2fc62f" stroke="#2fc62f" stroke-width="0.28">♍&#xFE0E;</text>
<text x="211.02" y="510.071" font-size="9" text-anchor="middle" textLength="11" lengthAdjust="spacingAndGlyphs" stroke="#000" stroke-width="0.12">59'</text>
<text x="179.32" y="346.28" font-size="17.11" font-family="DejaVu Sans" fill="#808080" stroke="#808080" stroke-width="0.3">♃&#xFE0E;</text>
<text x="202.158" y="354.788" font-size="9" text-anchor="middle" textLength="12" lengthAdjust="spacingAndGlyphs" stroke="#000" stroke-width="0.12">07°</text>
<text x="207.76" y="365.61" font-size="12.50" font-family="DejaVu Sans" fill="#00009c" stroke="#00009c" stroke-width="0.28" transform="translate(0 101.13) scale(1 0.72)">♋&#xFE0E;</text>
<text x="224.122" y="372.744" font-size="9" text-anchor="middle" textLength="11" lengthAdjust="spacingAndGlyphs" stroke="#000" stroke-width="0.12">13'</text>
<text x="441.68" y="337.35" font-size="17.11" font-family="DejaVu Sans" fill="#800000" stroke="#800000" stroke-width="0.3">♄&#xFE0E;</text>
<text x="436.006" y="346.826" font-size="9" text-anchor="middle" textLength="12" lengthAdjust="spacingAndGlyphs" stroke="#000" stroke-width="0.12">01°</text>
<text x="420.46" y="357.25" font-size="8.94" font-family="DejaVu Sans" fill="#b81414" stroke="#b81414" stroke-width="0.28">♈&#xFE0E;</text>
<text x="414.901" y="366.249" font-size="9" text-anchor="middle" textLength="11" lengthAdjust="spacingAndGlyphs" stroke="#000" stroke-width="0.12">55'</text>
<text x="273.48" y="286.34" font-size="17.11" font-family="DejaVu Sans" fill="#0000c0" stroke="#0000c0" stroke-width="0.3">♅&#xFE0E;</text>
<text x="286.084" y="301.362" font-size="9" text-anchor="middle" textLength="12" lengthAdjust="spacingAndGlyphs" stroke="#000" stroke-width="0.12">00°</text>
<text x="284.91" y="316.38" font-size="9.41" font-family="DejaVu Sans" fill="#2fb5b5" stroke="#2fb5b5" stroke-width="0.28">♊&#xFE0E;</text>
<text x="292.591" y="329.158" font-size="9" text-anchor="middle" textLength="11" lengthAdjust="spacingAndGlyphs" stroke="#000" stroke-width="0.12">11'</text>
<text x="429.19" y="325.08" font-size="17.11" font-family="DejaVu Sans" fill="#008080" stroke="#008080" stroke-width="0.3">♆&#xFE0E;</text>
<text x="424.877" y="335.89" font-size="9" text-anchor="middle" textLength="12" lengthAdjust="spacingAndGlyphs" stroke="#000" stroke-width="0.12">02°</text>
<text x="410.41" y="347.38" font-size="8.94" font-family="DejaVu Sans" fill="#b81414" stroke="#b81414" stroke-width="0.28">♈&#xFE0E;</text>
<text x="405.822" y="357.327" font-size="9" text-anchor="middle" textLength="11" lengthAdjust="spacingAndGlyphs" stroke="#000" stroke-width="0.12">09'</text>
<text x="393.356" y="366.525" font-size="9" fill="#c01010">R<tspan font-size="5.5" dy="1.8" dx="-1.5">x</tspan></text>
<g fill="none" stroke="#800000" stroke-width="1.5625" stroke-linecap="butt"><circle cx="491.406" cy="479.407" r="1.875"/><path d="M486.906 477.532 A4.5 4.875 0 0 0 495.906 477.532"/><path d="M491.406 482.407V489.532M488.156 486.282H494.656"/></g>
<text x="473.496" y="482.47" font-size="9" text-anchor="middle" textLength="12" lengthAdjust="spacingAndGlyphs" stroke="#000" stroke-width="0.12">02°</text>
<text x="452.63" y="481.07" font-size="12.68" font-family="DejaVu Sans" fill="#2fb5b5" stroke="#2fb5b5" stroke-width="0.28">♒&#xFE0E;</text>
<text x="445.486" y="476.911" font-size="9" text-anchor="middle" textLength="11" lengthAdjust="spacingAndGlyphs" stroke="#000" stroke-width="0.12">54'</text>
<text x="429.142" y="474.416" font-size="9" fill="#c01010">R<tspan font-size="5.5" dy="1.8" dx="-1.5">x</tspan></text>
<text x="361.40" y="286.44" font-size="16.59" font-family="DejaVu Sans" fill="#007a00" stroke="#007a00" stroke-width="0.3">⚷&#xFE0E;</text>
<text x="363.449" y="302.536" font-size="9" text-anchor="middle" textLength="12" lengthAdjust="spacingAndGlyphs" stroke="#000" stroke-width="0.12">27°</text>
<text x="354.96" y="317.27" font-size="8.94" font-family="DejaVu Sans" fill="#b81414" stroke="#b81414" stroke-width="0.28">♈&#xFE0E;</text>
<text x="355.707" y="330.117" font-size="9" text-anchor="middle" textLength="11" lengthAdjust="spacingAndGlyphs" stroke="#000" stroke-width="0.12">00'</text>
<text x="290.05" y="623.70" font-size="16.43" font-family="DejaVu Sans" fill="#000" stroke="#000" stroke-width="0.3">⚶&#xFE0E;</text>
<text x="300.24" y="603.785" font-size="9" text-anchor="middle" textLength="12" lengthAdjust="spacingAndGlyphs" stroke="#000" stroke-width="0.12">08°</text>
<text x="297.51" y="589.05" font-size="9.80" font-family="DejaVu Sans" fill="#00009c" stroke="#00009c" stroke-width="0.28">♏&#xFE0E;</text>
<text x="304.14" y="575.882" font-size="9" text-anchor="middle" textLength="11" lengthAdjust="spacingAndGlyphs" stroke="#000" stroke-width="0.12">08'</text>
<text x="488.43" y="436.39" font-size="15.75" font-family="DejaVu Sans" fill="#000" stroke="#000" stroke-width="0.3">⚴&#xFE0E;</text>
<text x="475.99" y="436.421" font-size="9" text-anchor="middle" textLength="12" lengthAdjust="spacingAndGlyphs" stroke="#000" stroke-width="0.12">22°</text>
<text x="454.88" y="439.50" font-size="12.68" font-family="DejaVu Sans" fill="#2fb5b5" stroke="#2fb5b5" stroke-width="0.28">♒&#xFE0E;</text>
<text x="447.521" y="439.343" font-size="9" text-anchor="middle" textLength="11" lengthAdjust="spacingAndGlyphs" stroke="#000" stroke-width="0.12">06'</text>
<text x="430.977" y="440.522" font-size="9" fill="#c01010">R<tspan font-size="5.5" dy="1.8" dx="-1.5">x</tspan></text>
<text x="326.49" y="625.67" font-size="15.75" font-family="DejaVu Sans" fill="#000" stroke="#000" stroke-width="0.3">⚵&#xFE0E;</text>
<text x="331.645" y="605.129" font-size="9" text-anchor="middle" textLength="12" lengthAdjust="spacingAndGlyphs" stroke="#000" stroke-width="0.12">16°</text>
<text x="325.86" y="590.27" font-size="9.80" font-family="DejaVu Sans" fill="#00009c" stroke="#00009c" stroke-width="0.28">♏&#xFE0E;</text>
<text x="329.761" y="576.979" font-size="9" text-anchor="middle" textLength="11" lengthAdjust="spacingAndGlyphs" stroke="#000" stroke-width="0.12">14'</text>
<text x="328.731" y="564.1" font-size="7" text-anchor="middle" stroke="#000" stroke-width="0.12">S</text>
<text x="408.79" y="307.23" font-size="15.75" font-family="DejaVu Sans" fill="#000" stroke="#000" stroke-width="0.3">⚳&#xFE0E;</text>
<text x="405.578" y="321.294" font-size="9" text-anchor="middle" textLength="12" lengthAdjust="spacingAndGlyphs" stroke="#000" stroke-width="0.12">14°</text>
<text x="392.99" y="334.20" font-size="8.94" font-family="DejaVu Sans" fill="#b81414" stroke="#b81414" stroke-width="0.28">♈&#xFE0E;</text>
<text x="390.077" y="345.419" font-size="9" text-anchor="middle" textLength="11" lengthAdjust="spacingAndGlyphs" stroke="#000" stroke-width="0.12">07'</text>
<text x="456.59" y="355.96" font-size="17.19" font-family="DejaVu Sans" fill="#000" stroke="#000" stroke-width="0.3">☊&#xFE0E;</text>
<text x="449.275" y="363.417" font-size="9" text-anchor="middle" textLength="12" lengthAdjust="spacingAndGlyphs" stroke="#000" stroke-width="0.12">21°</text>
<text x="431.47" y="373.01" font-size="11.09" font-family="DejaVu Sans" fill="#00009c" stroke="#00009c" stroke-width="0.28">♓&#xFE0E;</text>
<text x="425.726" y="379.785" font-size="9" text-anchor="middle" textLength="11" lengthAdjust="spacingAndGlyphs" stroke="#000" stroke-width="0.12">21'</text>
<text x="411.313" y="386.787" font-size="9" fill="#c01010">R<tspan font-size="5.5" dy="1.8" dx="-1.5">x</tspan></text>
<text x="172.52" y="553.56" font-size="17.29" font-family="DejaVu Sans" fill="#000" stroke="#000" stroke-width="0.3">☋&#xFE0E;</text>
<text x="196.11" y="539.535" font-size="9" text-anchor="middle" textLength="12" lengthAdjust="spacingAndGlyphs" stroke="#000" stroke-width="0.12">21°</text>
<text x="203.92" y="530.39" font-size="8.89" font-family="DejaVu Sans" fill="#2fc62f" stroke="#2fc62f" stroke-width="0.28">♍&#xFE0E;</text>
<text x="219.188" y="523.466" font-size="9" text-anchor="middle" textLength="11" lengthAdjust="spacingAndGlyphs" stroke="#000" stroke-width="0.12">21'</text>
<text x="224.969" y="516.42" font-size="9" fill="#c01010">R<tspan font-size="5.5" dy="1.8" dx="-1.5">x</tspan></text>
<text x="309.25" y="625.83" font-size="15.69" font-family="DejaVu Sans" fill="#000" stroke="#000" stroke-width="0.3">⚸&#xFE0E;</text>
<text x="316.043" y="605.265" font-size="9" text-anchor="middle" textLength="12" lengthAdjust="spacingAndGlyphs" stroke="#000" stroke-width="0.12">11°</text>
<text x="311.77" y="590.39" font-size="9.80" font-family="DejaVu Sans" fill="#00009c" stroke="#00009c" stroke-width="0.28">♏&#xFE0E;</text>
<text x="317.032" y="577.09" font-size="9" text-anchor="middle" textLength="11" lengthAdjust="spacingAndGlyphs" stroke="#000" stroke-width="0.12">52'</text>
<g fill="none" stroke="#000" stroke-width="1.5625"><circle cx="384.279" cy="283.549" r="2.75"/><path d="M384.279 286.299V292.799M381.029 289.549L384.279 293.049L387.529 289.549"/></g>
<text x="378.012" y="307.339" font-size="9" text-anchor="middle" textLength="12" lengthAdjust="spacingAndGlyphs" stroke="#000" stroke-width="0.12">25°</text>
<text x="368.11" y="321.60" font-size="8.94" font-family="DejaVu Sans" fill="#b81414" stroke="#b81414" stroke-width="0.28">♈&#xFE0E;</text>
<text x="367.588" y="334.034" font-size="9" text-anchor="middle" textLength="11" lengthAdjust="spacingAndGlyphs" stroke="#000" stroke-width="0.12">43'</text>
</g>
</svg>
</body></html>
